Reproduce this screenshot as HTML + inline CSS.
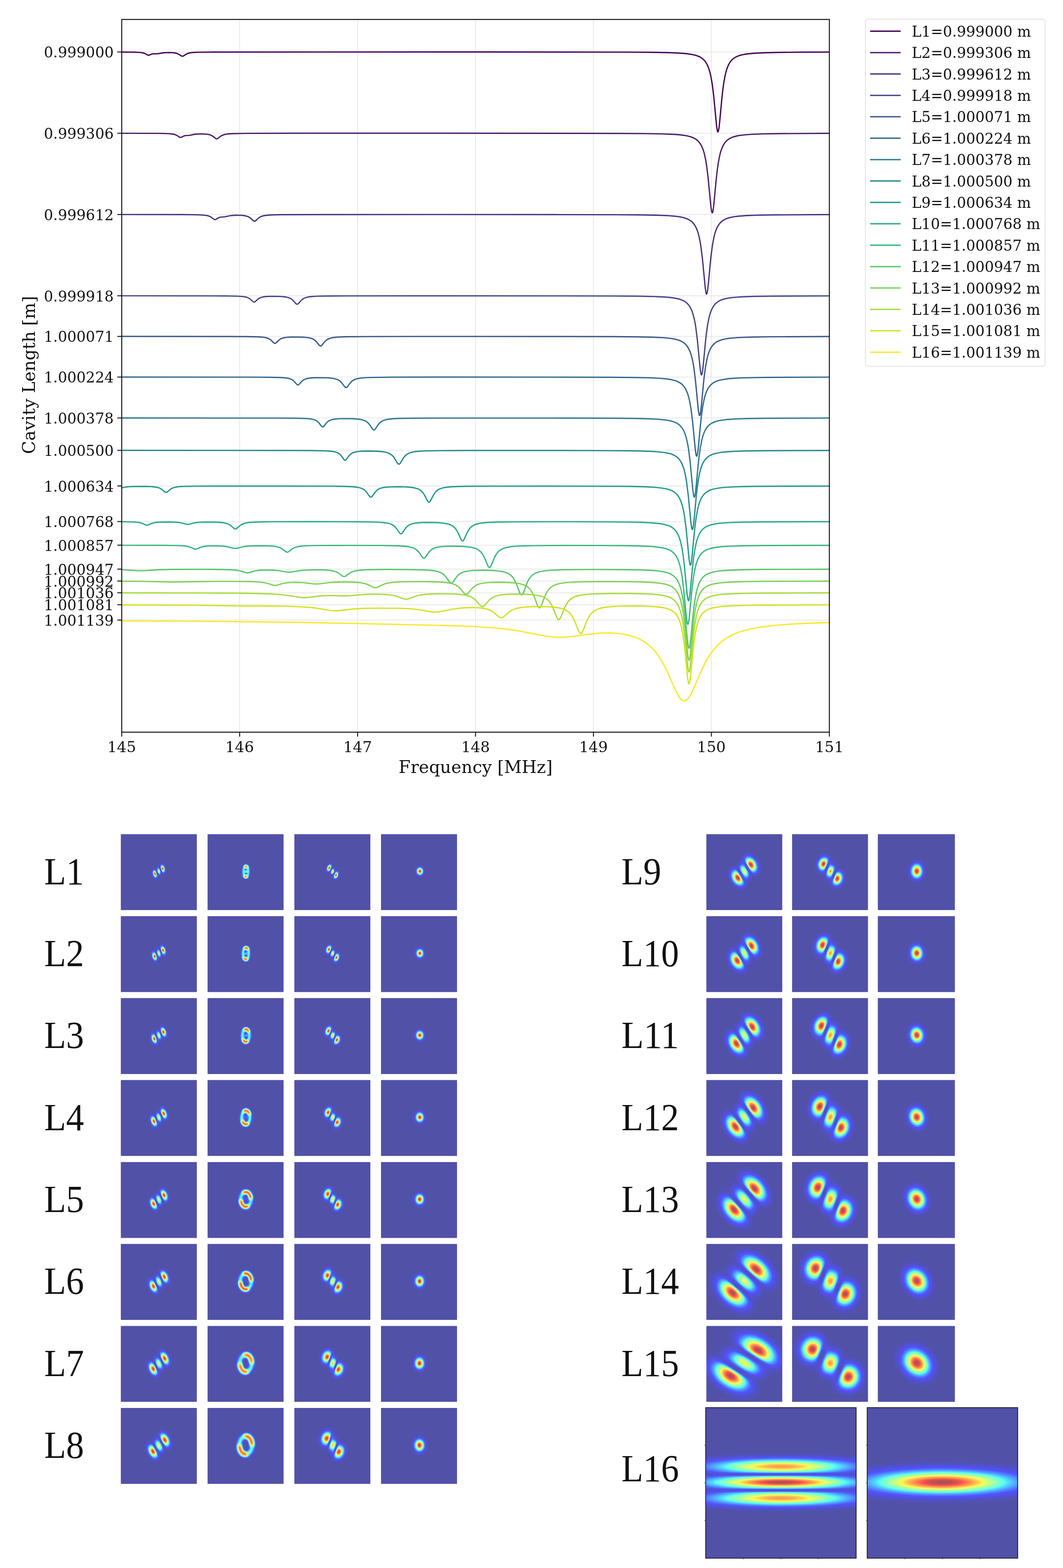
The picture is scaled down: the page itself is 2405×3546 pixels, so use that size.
<!DOCTYPE html><html><head><meta charset="utf-8"><title>Cavity length scan</title><style>html,body{margin:0;padding:0;background:#fff;overflow:hidden}svg{display:block}.t{font-family:"DejaVu Serif","Liberation Serif",serif;fill:#111}.lab{font-family:"Liberation Serif","DejaVu Serif",serif;fill:#111}</style></head><body>
<svg width="2405" height="3546" viewBox="0 0 2405 3546">
<defs>
<filter id="jet" x="0" y="0" width="1" height="1" filterUnits="objectBoundingBox" color-interpolation-filters="sRGB"><feComponentTransfer><feFuncR type="table" tableValues="0.320 0.320 0.320 0.320 0.320 0.320 0.320 0.320 0.320 0.320 0.320 0.320 0.320 0.320 0.320 0.320 0.320 0.320 0.320 0.320 0.320 0.320 0.320 0.344 0.378 0.412 0.447 0.481 0.516 0.550 0.585 0.619 0.653 0.688 0.722 0.757 0.791 0.825 0.860 0.894 0.929 0.963 0.997 1.000 1.000 1.000 1.000 1.000 1.000 1.000 1.000 1.000 1.000 1.000 1.000 1.000 1.000 0.987 0.939 0.890 0.842 0.793 0.745 0.696 0.660"/><feFuncG type="table" tableValues="0.320 0.320 0.320 0.320 0.320 0.320 0.320 0.320 0.321 0.364 0.407 0.449 0.492 0.535 0.577 0.620 0.663 0.705 0.748 0.791 0.833 0.876 0.919 0.961 1.000 1.000 1.000 1.000 1.000 1.000 1.000 1.000 1.000 1.000 1.000 1.000 1.000 1.000 1.000 1.000 1.000 0.992 0.953 0.913 0.874 0.834 0.795 0.755 0.716 0.676 0.637 0.597 0.558 0.518 0.479 0.439 0.400 0.360 0.320 0.320 0.320 0.320 0.320 0.320 0.320"/><feFuncB type="table" tableValues="0.660 0.708 0.757 0.805 0.854 0.902 0.951 0.999 1.000 1.000 1.000 1.000 1.000 1.000 1.000 1.000 1.000 1.000 1.000 1.000 1.000 1.000 0.989 0.954 0.920 0.886 0.851 0.817 0.782 0.748 0.714 0.679 0.645 0.610 0.576 0.542 0.507 0.473 0.438 0.404 0.369 0.335 0.320 0.320 0.320 0.320 0.320 0.320 0.320 0.320 0.320 0.320 0.320 0.320 0.320 0.320 0.320 0.320 0.320 0.320 0.320 0.320 0.320 0.320 0.320"/></feComponentTransfer></filter>
<radialGradient id="gs"><stop offset="0.000" stop-color="#fff" stop-opacity="1.0000"/><stop offset="0.083" stop-color="#fff" stop-opacity="0.9692"/><stop offset="0.167" stop-color="#fff" stop-opacity="0.8825"/><stop offset="0.250" stop-color="#fff" stop-opacity="0.7548"/><stop offset="0.333" stop-color="#fff" stop-opacity="0.6065"/><stop offset="0.417" stop-color="#fff" stop-opacity="0.4578"/><stop offset="0.500" stop-color="#fff" stop-opacity="0.3247"/><stop offset="0.583" stop-color="#fff" stop-opacity="0.2163"/><stop offset="0.667" stop-color="#fff" stop-opacity="0.1353"/><stop offset="0.750" stop-color="#fff" stop-opacity="0.0796"/><stop offset="0.833" stop-color="#fff" stop-opacity="0.0439"/><stop offset="0.917" stop-color="#fff" stop-opacity="0.0228"/><stop offset="1.000" stop-color="#fff" stop-opacity="0.0111"/></radialGradient>
</defs>
<line x1="542.2" y1="44.0" x2="542.2" y2="1655.8" stroke="#e9e9e9" stroke-width="2"/>
<line x1="809.1" y1="44.0" x2="809.1" y2="1655.8" stroke="#e9e9e9" stroke-width="2"/>
<line x1="1075.9" y1="44.0" x2="1075.9" y2="1655.8" stroke="#e9e9e9" stroke-width="2"/>
<line x1="1342.7" y1="44.0" x2="1342.7" y2="1655.8" stroke="#e9e9e9" stroke-width="2"/>
<line x1="1609.5" y1="44.0" x2="1609.5" y2="1655.8" stroke="#e9e9e9" stroke-width="2"/>
<line x1="275.4" y1="117.5" x2="1876.4" y2="117.5" stroke="#e9e9e9" stroke-width="2"/>
<line x1="275.4" y1="301.3" x2="1876.4" y2="301.3" stroke="#e9e9e9" stroke-width="2"/>
<line x1="275.4" y1="485.1" x2="1876.4" y2="485.1" stroke="#e9e9e9" stroke-width="2"/>
<line x1="275.4" y1="668.9" x2="1876.4" y2="668.9" stroke="#e9e9e9" stroke-width="2"/>
<line x1="275.4" y1="760.8" x2="1876.4" y2="760.8" stroke="#e9e9e9" stroke-width="2"/>
<line x1="275.4" y1="852.7" x2="1876.4" y2="852.7" stroke="#e9e9e9" stroke-width="2"/>
<line x1="275.4" y1="945.2" x2="1876.4" y2="945.2" stroke="#e9e9e9" stroke-width="2"/>
<line x1="275.4" y1="1018.5" x2="1876.4" y2="1018.5" stroke="#e9e9e9" stroke-width="2"/>
<line x1="275.4" y1="1099.0" x2="1876.4" y2="1099.0" stroke="#e9e9e9" stroke-width="2"/>
<line x1="275.4" y1="1179.5" x2="1876.4" y2="1179.5" stroke="#e9e9e9" stroke-width="2"/>
<line x1="275.4" y1="1232.9" x2="1876.4" y2="1232.9" stroke="#e9e9e9" stroke-width="2"/>
<line x1="275.4" y1="1287.0" x2="1876.4" y2="1287.0" stroke="#e9e9e9" stroke-width="2"/>
<line x1="275.4" y1="1314.0" x2="1876.4" y2="1314.0" stroke="#e9e9e9" stroke-width="2"/>
<line x1="275.4" y1="1340.5" x2="1876.4" y2="1340.5" stroke="#e9e9e9" stroke-width="2"/>
<line x1="275.4" y1="1367.5" x2="1876.4" y2="1367.5" stroke="#e9e9e9" stroke-width="2"/>
<line x1="275.4" y1="1402.3" x2="1876.4" y2="1402.3" stroke="#e9e9e9" stroke-width="2"/>
<g fill="none" stroke-width="2.9" stroke-linejoin="round" clip-path="url(#axclip)">
<path d="M275.4 117.7 L 304.5 118.0 312.8 118.4 318.9 118.9 322.9 119.5 326.4 120.5 329.0 121.7 333.8 124.4 336.0 125.0 337.8 124.6 342.9 122.4 346.1 121.8 356.5 121.6 367.2 119.8 374.1 119.1 382.1 118.9 389.9 119.1 396.0 119.8 400.8 121.0 404.5 122.7 410.4 126.5 411.8 127.0 412.8 127.2 413.9 127.0 415.2 126.5 420.6 122.9 424.0 121.2 427.8 120.0 432.6 119.1 439.2 118.5 448.8 118.1 483.5 117.7 1089.2 117.5 1409.2 117.9 1470.8 118.3 1511.1 119.0 1538.8 120.2 1549.5 121.0 1558.3 122.0 1567.9 123.6 1575.7 125.6 1582.1 128.1 1587.7 131.3 1592.2 135.1 1596.2 139.9 1599.7 145.6 1602.9 152.9 1605.3 160.2 1607.4 168.5 1609.5 179.0 1611.4 190.5 1614.9 218.8 1621.3 285.4 1622.9 295.6 1623.7 298.0 1624.2 298.5 1624.8 298.0 1625.6 295.6 1626.9 287.5 1628.5 272.9 1632.8 226.7 1634.9 206.8 1637.6 187.0 1640.5 170.9 1642.4 163.1 1644.2 156.8 1646.4 150.9 1648.5 146.1 1650.9 141.9 1653.8 137.8 1657.0 134.4 1660.5 131.5 1664.3 129.2 1668.3 127.3 1673.1 125.5 1678.4 124.1 1684.5 122.8 1691.5 121.8 1709.1 120.2 1732.0 119.2 1764.0 118.5 1809.4 118.0 1876.4 117.8" stroke="#440154"/>
<path d="M275.4 301.4 L 354.1 301.6 372.0 301.9 383.5 302.4 390.9 303.2 396.3 304.5 400.3 306.4 406.1 310.3 408.3 310.9 410.4 310.4 416.0 307.5 419.5 306.6 428.6 306.1 438.7 304.0 445.1 303.2 453.6 302.9 462.7 303.1 470.7 303.9 473.9 304.6 476.9 305.6 481.4 308.0 488.1 313.2 489.4 313.8 490.5 314.0 491.8 313.7 493.1 313.0 498.7 308.4 502.2 306.3 505.9 304.8 510.5 303.6 517.1 302.8 526.0 302.2 557.2 301.6 660.7 301.3 1018.0 301.3 1400.9 301.7 1460.4 302.1 1499.6 302.9 1526.6 304.0 1537.0 304.8 1545.8 305.8 1555.1 307.4 1562.9 309.4 1569.3 311.9 1574.9 315.1 1579.4 318.9 1583.4 323.6 1586.9 329.3 1590.1 336.5 1592.5 343.8 1594.6 352.1 1596.7 362.5 1598.6 373.9 1602.1 402.1 1608.5 468.3 1610.1 478.4 1610.9 480.8 1611.4 481.3 1612.0 480.8 1612.8 478.4 1614.1 470.4 1615.7 455.9 1620.0 409.9 1622.1 390.1 1625.0 368.8 1628.0 353.2 1629.8 345.7 1631.7 339.5 1633.8 333.9 1636.2 328.8 1638.6 324.7 1641.6 320.9 1644.8 317.6 1648.2 314.9 1652.2 312.5 1656.5 310.6 1661.3 309.0 1666.9 307.5 1673.3 306.3 1680.5 305.4 1698.7 303.9 1723.0 302.9 1756.6 302.2 1876.4 301.5" stroke="#481a6c"/>
<path d="M275.4 485.1 L 412.0 485.3 439.2 485.6 455.2 486.1 465.6 487.1 469.4 487.7 472.6 488.6 475.0 489.6 477.4 490.9 484.1 495.9 485.4 496.5 486.5 496.6 487.5 496.5 488.9 495.9 495.0 492.2 498.7 491.1 508.3 490.4 518.7 488.1 525.4 487.2 534.5 486.8 544.4 486.9 549.7 487.3 554.2 488.0 558.0 488.8 561.2 489.9 563.8 491.2 566.2 492.9 573.4 499.4 574.8 500.1 575.9 500.3 577.2 500.0 578.5 499.2 584.4 493.6 587.6 491.3 591.3 489.4 595.9 488.0 602.3 487.0 610.5 486.3 622.3 485.8 639.4 485.5 719.1 485.2 960.1 485.1 1253.6 485.3 1394.0 485.6 1450.8 486.0 1488.4 486.7 1514.6 487.9 1524.7 488.7 1533.2 489.6 1542.6 491.2 1550.3 493.3 1556.7 495.8 1562.1 498.9 1566.6 502.7 1570.6 507.4 1574.1 513.1 1577.3 520.4 1579.7 527.6 1581.8 535.9 1583.9 546.3 1585.8 557.8 1589.3 585.9 1595.7 652.1 1597.3 662.2 1598.1 664.6 1598.6 665.1 1599.1 664.6 1599.9 662.2 1601.3 654.2 1602.9 639.7 1607.1 593.8 1609.3 573.9 1612.2 552.6 1615.2 537.0 1617.0 529.5 1619.2 522.6 1621.3 517.0 1623.7 512.1 1626.4 507.8 1629.3 504.1 1632.5 501.0 1636.2 498.2 1640.2 495.9 1644.5 494.1 1649.6 492.5 1655.4 491.1 1662.1 489.9 1669.6 489.0 1688.5 487.5 1713.6 486.6 1749.1 486.0 1876.4 485.3" stroke="#472f7d"/>
<path d="M275.4 668.9 L 483.8 669.1 519.5 669.4 539.3 669.9 551.8 670.9 556.1 671.7 559.8 672.8 562.2 673.9 564.6 675.3 567.0 677.2 572.1 682.0 573.4 682.8 574.8 683.1 576.1 682.8 577.5 682.0 582.8 677.0 586.0 674.7 589.5 673.1 593.7 671.8 600.4 670.8 609.2 670.3 621.5 670.1 633.8 670.4 641.2 671.0 647.1 671.7 651.9 672.8 655.9 674.3 658.6 675.7 661.0 677.5 663.6 680.1 669.2 686.5 670.8 687.7 672.2 688.0 673.5 687.7 675.1 686.5 681.0 679.7 684.2 676.8 687.9 674.5 692.2 672.8 698.1 671.5 706.1 670.5 717.0 669.9 732.2 669.5 789.0 669.1 933.7 669.0 1241.6 669.1 1388.6 669.4 1442.5 669.8 1478.5 670.6 1503.9 671.7 1513.8 672.5 1522.0 673.5 1531.1 675.0 1538.8 677.0 1545.2 679.6 1550.6 682.6 1555.1 686.4 1559.1 691.1 1562.6 696.8 1565.8 704.0 1568.2 711.2 1570.3 719.4 1572.5 729.8 1574.3 741.2 1577.8 769.2 1584.2 835.0 1585.8 845.1 1586.6 847.4 1587.1 847.9 1587.7 847.4 1588.5 845.1 1589.8 837.1 1591.4 822.7 1595.7 777.0 1597.8 757.3 1600.7 736.0 1603.9 719.4 1605.8 712.1 1607.9 705.4 1610.1 700.1 1612.5 695.3 1615.2 691.1 1618.1 687.5 1621.6 684.2 1625.3 681.6 1629.3 679.4 1633.8 677.6 1639.2 676.0 1645.0 674.6 1652.0 673.5 1659.7 672.6 1679.2 671.2 1705.3 670.3 1742.4 669.7 1876.4 669.1" stroke="#414487"/>
<path d="M275.4 760.8 L 521.2 761.0 561.7 761.3 583.9 761.8 591.6 762.3 597.5 762.9 602.3 763.8 606.3 765.0 609.2 766.4 611.6 767.9 614.3 770.2 619.3 775.4 620.7 776.2 622.0 776.5 623.3 776.2 624.7 775.4 630.3 769.8 633.5 767.3 637.2 765.4 641.8 764.0 648.7 762.9 658.0 762.3 671.1 762.1 684.2 762.5 692.5 763.1 698.9 763.9 703.9 765.2 708.2 766.8 711.1 768.5 713.8 770.7 716.5 773.5 722.3 780.9 723.9 782.1 725.3 782.5 726.6 782.1 728.2 780.9 734.3 773.1 737.8 769.7 741.3 767.3 745.6 765.4 751.7 763.8 759.4 762.7 769.8 762.0 784.5 761.5 833.9 761.1 949.1 760.9 1241.3 761.0 1387.0 761.3 1439.3 761.8 1474.8 762.5 1499.9 763.6 1509.5 764.4 1517.8 765.4 1526.8 766.9 1534.6 768.9 1541.0 771.5 1546.3 774.5 1550.8 778.3 1554.8 783.0 1558.3 788.7 1561.5 795.9 1563.9 803.1 1566.1 811.3 1568.2 821.7 1570.1 833.1 1573.5 861.1 1579.9 926.9 1581.5 937.0 1582.3 939.3 1582.9 939.8 1583.4 939.3 1584.2 937.0 1585.5 929.0 1587.1 914.6 1591.4 868.9 1593.5 849.2 1596.5 827.9 1599.7 811.3 1601.5 804.0 1603.7 797.3 1605.8 792.0 1608.2 787.2 1610.9 783.0 1614.1 779.1 1617.6 775.9 1621.3 773.3 1625.3 771.2 1630.1 769.3 1635.4 767.7 1641.3 766.4 1648.2 765.3 1656.0 764.4 1676.0 763.1 1702.7 762.2 1740.0 761.6 1876.4 761.0" stroke="#39568c"/>
<path d="M275.4 852.7 L 564.4 852.9 609.7 853.2 634.0 853.8 642.6 854.3 649.0 855.0 654.0 856.0 658.0 857.3 661.0 858.8 663.4 860.5 666.0 863.0 671.4 869.1 672.7 870.1 674.0 870.5 675.4 870.1 676.7 869.1 682.3 862.8 685.8 859.8 689.5 857.7 694.1 856.2 701.3 855.0 710.9 854.3 725.0 854.1 739.2 854.4 748.0 855.0 754.9 855.9 760.5 857.3 765.0 859.1 768.2 861.0 770.9 863.3 773.8 866.5 779.7 874.4 781.3 875.9 782.9 876.4 784.5 875.8 786.1 874.4 792.0 866.5 795.5 862.7 798.9 860.1 803.2 857.9 809.1 856.2 816.8 854.9 826.9 854.1 840.8 853.6 885.1 853.0 982.5 852.8 1244.5 852.9 1384.1 853.3 1434.8 853.7 1469.2 854.4 1493.5 855.6 1511.1 857.3 1520.2 858.8 1527.9 860.9 1534.3 863.4 1539.6 866.5 1544.2 870.2 1548.2 874.9 1551.6 880.6 1554.8 887.8 1557.3 895.0 1559.4 903.2 1561.5 913.6 1563.4 925.0 1566.9 953.0 1573.3 1018.8 1574.9 1028.9 1575.7 1031.3 1576.2 1031.7 1576.7 1031.3 1577.5 1028.9 1578.9 1020.9 1580.5 1006.5 1584.7 960.8 1586.9 941.1 1589.8 919.8 1593.0 903.2 1594.9 895.9 1597.0 889.2 1599.4 883.3 1601.8 878.6 1604.5 874.5 1607.7 870.7 1611.2 867.6 1614.9 865.1 1618.9 863.0 1623.7 861.1 1629.0 859.6 1635.2 858.3 1642.1 857.2 1650.1 856.3 1670.4 854.9 1697.6 854.1 1736.0 853.5 1876.4 852.9" stroke="#31688e"/>
<path d="M275.4 945.2 L 611.3 945.4 662.0 945.7 688.2 946.3 697.3 946.9 704.2 947.7 709.5 948.8 713.8 950.4 716.7 952.0 719.4 954.1 722.1 957.0 727.4 964.0 728.7 965.1 730.1 965.5 731.4 965.1 732.7 964.0 738.4 956.7 741.8 953.3 745.8 950.8 750.6 949.0 758.1 947.7 768.5 946.9 783.7 946.6 799.5 947.0 809.1 947.7 816.5 948.8 822.4 950.3 827.2 952.3 830.7 954.6 833.6 957.4 836.8 961.4 842.7 970.3 844.3 971.8 845.9 972.4 847.5 971.8 849.1 970.2 855.2 961.0 858.7 956.7 862.2 953.8 866.2 951.4 872.0 949.4 879.2 948.0 888.8 947.0 902.2 946.3 941.4 945.7 1022.3 945.4 1248.8 945.4 1382.5 945.8 1431.3 946.2 1464.9 947.0 1488.7 948.1 1506.0 949.8 1515.1 951.4 1522.8 953.4 1529.2 956.0 1534.6 959.1 1539.1 963.0 1543.1 967.8 1546.6 973.6 1549.8 981.0 1552.2 988.5 1554.3 996.9 1556.2 1006.1 1558.1 1017.5 1561.5 1045.5 1567.9 1111.3 1569.5 1121.4 1570.3 1123.8 1570.9 1124.2 1571.4 1123.8 1572.2 1121.4 1573.5 1113.4 1575.1 1099.0 1579.4 1053.3 1581.5 1033.6 1584.5 1012.3 1587.7 995.7 1589.5 988.5 1591.7 981.8 1594.1 975.8 1596.5 971.1 1599.1 967.0 1602.3 963.3 1605.8 960.1 1609.8 957.4 1614.1 955.3 1618.9 953.4 1624.2 951.9 1630.4 950.7 1637.3 949.6 1645.6 948.7 1666.1 947.4 1693.6 946.5 1732.8 946.0 1876.4 945.4" stroke="#2a788e"/>
<path d="M275.4 1018.5 L 652.7 1018.7 708.2 1019.0 736.7 1019.6 746.6 1020.3 753.8 1021.1 759.4 1022.3 764.0 1024.0 767.2 1025.9 769.8 1028.2 772.8 1031.6 778.1 1039.2 779.4 1040.4 780.8 1040.8 782.1 1040.4 783.4 1039.2 789.3 1031.0 792.8 1027.3 796.8 1024.6 801.9 1022.6 809.6 1021.1 820.5 1020.3 836.5 1020.0 853.1 1020.5 863.5 1021.2 871.5 1022.4 877.9 1024.2 883.0 1026.6 886.4 1029.1 889.6 1032.3 892.8 1036.7 899.2 1047.4 900.8 1049.1 902.5 1049.7 904.1 1049.1 905.7 1047.4 912.1 1036.7 915.5 1032.0 919.0 1028.6 923.0 1025.9 928.6 1023.5 935.8 1021.8 945.1 1020.7 957.7 1019.9 992.6 1019.1 1061.2 1018.8 1250.9 1018.7 1379.5 1019.1 1427.6 1019.5 1460.7 1020.3 1484.1 1021.4 1501.5 1023.1 1510.6 1024.7 1518.3 1026.7 1524.7 1029.3 1530.0 1032.4 1534.6 1036.3 1538.6 1041.1 1542.0 1046.9 1545.2 1054.3 1547.6 1061.7 1549.8 1070.2 1551.6 1079.4 1553.5 1090.8 1557.0 1118.8 1563.4 1184.6 1565.0 1194.7 1565.8 1197.1 1566.3 1197.5 1566.9 1197.1 1567.7 1194.7 1569.0 1186.7 1570.6 1172.3 1574.9 1126.6 1577.0 1106.9 1579.9 1085.6 1583.1 1069.0 1585.0 1061.7 1587.1 1055.0 1589.5 1049.1 1591.9 1044.4 1594.9 1040.0 1598.1 1036.3 1601.5 1033.2 1605.5 1030.6 1609.8 1028.4 1614.6 1026.6 1620.0 1025.2 1626.1 1023.9 1633.3 1022.8 1641.6 1022.0 1662.4 1020.6 1690.4 1019.8 1730.2 1019.2 1876.4 1018.7" stroke="#23888e"/>
<path d="M275.4 1103.3 L 280.2 1102.1 285.8 1101.2 293.0 1100.6 301.8 1100.2 329.0 1100.0 340.0 1100.4 348.2 1101.0 356.0 1102.2 359.2 1103.1 361.9 1104.2 366.4 1106.9 373.1 1112.7 374.4 1113.4 375.7 1113.7 377.1 1113.4 378.7 1112.5 384.3 1107.5 386.9 1105.6 389.6 1104.1 392.8 1102.9 397.3 1101.7 402.7 1100.9 409.6 1100.3 419.0 1099.9 439.8 1099.4 475.0 1099.2 642.0 1099.2 742.1 1099.4 768.2 1099.7 786.1 1100.2 798.1 1100.8 807.2 1101.8 814.1 1103.1 819.5 1105.0 823.2 1107.1 826.7 1110.0 829.9 1113.8 835.7 1122.2 837.3 1123.8 838.9 1124.3 840.3 1123.9 841.9 1122.6 848.6 1113.2 852.3 1109.1 854.4 1107.4 856.8 1106.0 859.5 1104.7 862.4 1103.7 866.4 1102.8 871.0 1102.0 882.7 1101.1 899.8 1100.7 917.7 1101.1 929.1 1102.0 937.9 1103.3 944.9 1105.3 947.8 1106.6 950.2 1108.0 953.9 1110.9 957.4 1114.9 960.9 1120.5 967.3 1133.0 968.9 1135.0 969.7 1135.5 970.5 1135.7 971.3 1135.5 972.1 1135.0 973.7 1133.0 980.1 1120.5 983.6 1114.9 986.8 1111.1 990.5 1108.1 992.9 1106.6 995.8 1105.3 1002.5 1103.2 1011.1 1101.8 1022.5 1100.8 1035.3 1100.2 1052.4 1099.8 1108.2 1099.4 1251.7 1099.3 1374.5 1099.6 1422.8 1100.0 1455.9 1100.8 1479.3 1101.9 1496.7 1103.6 1506.0 1105.1 1513.8 1107.2 1520.2 1109.7 1525.5 1112.8 1530.0 1116.5 1534.0 1121.2 1537.5 1126.9 1540.7 1134.1 1543.1 1141.3 1545.2 1149.5 1547.4 1159.9 1549.2 1171.3 1552.7 1199.3 1559.1 1265.1 1560.7 1275.2 1561.5 1277.6 1562.1 1278.0 1562.6 1277.6 1563.4 1275.2 1564.7 1267.2 1566.3 1252.8 1570.6 1207.1 1572.7 1187.4 1575.7 1166.1 1578.9 1149.5 1580.7 1142.2 1582.9 1135.5 1585.3 1129.6 1587.7 1124.9 1590.6 1120.5 1593.8 1116.8 1597.3 1113.7 1601.3 1111.1 1605.5 1108.9 1610.4 1107.1 1616.0 1105.6 1622.1 1104.4 1629.3 1103.3 1637.6 1102.4 1658.6 1101.1 1686.9 1100.3 1727.2 1099.7 1876.4 1099.2" stroke="#1f988b"/>
<path d="M275.4 1179.9 L 298.9 1180.4 306.4 1180.8 312.2 1181.4 316.5 1182.1 320.0 1183.0 323.4 1184.3 329.3 1187.0 330.9 1187.5 332.5 1187.7 335.4 1187.1 342.6 1183.9 347.7 1182.4 354.4 1181.3 363.5 1180.7 383.5 1180.5 400.5 1181.2 409.6 1182.4 421.4 1185.4 425.1 1185.8 428.8 1185.4 436.8 1183.2 441.1 1182.3 451.8 1181.1 461.4 1180.7 473.1 1180.6 485.4 1180.8 495.5 1181.2 501.9 1181.7 507.3 1182.5 511.8 1183.5 515.5 1184.8 518.5 1186.2 521.4 1188.0 529.7 1195.1 531.3 1195.9 532.6 1196.2 534.2 1195.8 535.8 1194.9 542.2 1189.3 545.2 1187.1 548.1 1185.4 551.0 1184.2 555.3 1182.9 560.6 1182.0 567.0 1181.3 575.3 1180.7 591.9 1180.2 616.7 1179.9 717.3 1179.8 810.4 1180.0 835.7 1180.4 853.4 1180.9 865.4 1181.6 874.2 1182.7 881.1 1184.2 886.7 1186.4 890.4 1188.6 893.9 1191.6 897.4 1195.8 903.8 1205.3 905.4 1206.8 907.0 1207.4 908.6 1206.8 910.2 1205.4 917.1 1195.2 919.3 1192.6 921.4 1190.5 923.8 1188.6 926.2 1187.1 928.9 1185.8 932.1 1184.7 936.3 1183.6 941.1 1182.8 953.9 1181.8 972.6 1181.5 991.3 1182.0 1003.3 1183.1 1012.4 1184.7 1016.1 1185.7 1019.6 1187.1 1022.5 1188.5 1025.2 1190.3 1029.2 1193.9 1032.7 1198.4 1036.4 1205.2 1043.1 1219.9 1044.9 1222.5 1045.7 1223.1 1046.5 1223.3 1047.3 1223.1 1048.1 1222.5 1050.0 1219.9 1056.7 1205.1 1060.1 1198.8 1063.3 1194.4 1067.1 1190.8 1069.8 1188.9 1072.4 1187.4 1075.4 1186.1 1078.8 1185.0 1086.8 1183.2 1097.2 1182.0 1108.4 1181.3 1122.9 1180.7 1166.6 1180.1 1261.9 1179.9 1369.9 1180.1 1418.8 1180.6 1452.1 1181.3 1475.9 1182.5 1493.2 1184.2 1502.3 1185.8 1510.0 1187.8 1516.4 1190.4 1521.8 1193.6 1526.3 1197.6 1530.3 1202.5 1533.8 1208.4 1536.7 1215.3 1539.1 1222.8 1541.2 1231.2 1543.1 1240.4 1545.0 1251.8 1548.4 1279.8 1554.8 1345.6 1556.5 1355.7 1557.3 1358.1 1557.8 1358.5 1558.6 1357.5 1559.4 1354.5 1561.0 1343.4 1566.6 1284.9 1569.5 1259.4 1572.2 1241.9 1574.9 1228.9 1576.7 1221.8 1578.9 1215.3 1581.3 1209.5 1583.7 1205.0 1586.6 1200.6 1589.8 1197.0 1593.3 1194.0 1597.3 1191.4 1601.5 1189.3 1606.3 1187.6 1612.0 1186.0 1618.1 1184.8 1625.3 1183.8 1633.8 1182.9 1655.2 1181.6 1684.0 1180.8 1724.8 1180.2 1876.4 1179.7" stroke="#22a884"/>
<path d="M275.4 1233.1 L 371.7 1233.3 394.1 1233.6 408.5 1234.1 418.2 1234.8 425.4 1236.0 431.0 1237.7 439.2 1241.2 442.4 1241.8 445.6 1241.2 453.6 1237.9 459.0 1236.3 465.6 1235.2 473.9 1234.6 491.0 1234.5 506.2 1235.3 514.7 1236.5 528.1 1239.8 532.6 1240.3 537.2 1239.8 546.2 1237.4 551.3 1236.3 562.2 1235.0 571.6 1234.5 583.1 1234.2 607.3 1234.5 615.1 1235.0 621.2 1235.6 626.5 1236.6 630.8 1237.7 634.3 1239.1 637.5 1240.8 646.6 1247.7 648.2 1248.4 649.8 1248.7 651.4 1248.4 653.0 1247.7 661.8 1240.9 665.0 1239.1 668.2 1237.8 672.4 1236.6 677.2 1235.7 683.1 1235.0 690.3 1234.4 703.4 1233.9 721.8 1233.6 786.9 1233.4 862.7 1233.6 885.4 1234.0 901.9 1234.5 914.5 1235.2 924.1 1236.3 931.5 1238.0 937.4 1240.2 941.4 1242.5 945.1 1245.8 948.9 1250.3 955.5 1260.2 957.4 1261.9 959.0 1262.4 960.6 1261.9 962.5 1260.2 969.7 1249.7 971.8 1247.0 974.2 1244.6 976.6 1242.7 979.3 1241.1 982.2 1239.7 985.7 1238.5 990.2 1237.4 995.6 1236.5 1009.2 1235.4 1028.9 1235.2 1048.4 1235.8 1061.2 1237.0 1066.6 1237.8 1071.1 1238.8 1075.1 1240.0 1078.6 1241.5 1081.8 1243.2 1084.7 1245.2 1089.0 1249.4 1092.7 1254.7 1096.4 1261.9 1103.6 1279.3 1105.5 1282.2 1106.6 1283.1 1107.4 1283.3 1108.2 1283.1 1109.2 1282.2 1111.1 1279.3 1118.0 1262.5 1121.5 1255.5 1124.7 1250.6 1128.2 1246.7 1130.6 1244.7 1133.3 1242.9 1136.2 1241.3 1139.4 1240.0 1147.1 1237.8 1156.7 1236.3 1166.3 1235.4 1178.1 1234.7 1212.2 1233.9 1274.1 1233.5 1360.3 1233.6 1412.9 1234.0 1448.7 1234.7 1473.7 1235.9 1483.3 1236.7 1491.6 1237.7 1500.7 1239.3 1508.4 1241.3 1514.8 1243.9 1520.2 1247.1 1524.7 1251.1 1528.7 1256.0 1532.2 1261.9 1535.1 1268.8 1537.5 1276.2 1539.6 1284.7 1541.5 1293.9 1543.4 1305.3 1546.8 1333.3 1553.2 1399.1 1554.8 1409.2 1555.7 1411.5 1556.2 1412.0 1557.0 1411.0 1557.8 1408.0 1559.4 1396.9 1565.0 1338.4 1567.9 1312.9 1570.6 1295.4 1573.3 1282.4 1575.1 1275.3 1577.3 1268.8 1579.7 1263.0 1582.1 1258.5 1585.0 1254.1 1588.2 1250.5 1591.7 1247.5 1595.7 1244.9 1599.9 1242.8 1604.7 1241.0 1610.4 1239.5 1616.8 1238.3 1624.0 1237.2 1632.5 1236.3 1653.8 1235.1 1682.7 1234.2 1723.8 1233.7 1876.4 1233.2" stroke="#35b779"/>
<path d="M275.4 1288.4 L 309.6 1290.4 319.2 1290.6 328.5 1290.4 360.0 1288.5 389.1 1287.8 456.8 1287.5 509.9 1288.0 526.0 1288.7 536.9 1289.8 544.9 1291.5 555.8 1295.0 559.6 1295.5 563.6 1295.0 572.9 1292.0 578.5 1290.7 585.5 1289.7 593.7 1289.2 608.4 1289.1 622.5 1289.7 633.0 1290.9 648.2 1293.6 653.8 1294.0 659.9 1293.5 677.2 1290.5 688.5 1289.4 707.7 1288.7 729.3 1288.8 738.6 1289.3 746.1 1289.9 752.2 1290.9 757.3 1292.1 760.8 1293.4 764.0 1294.9 767.4 1297.1 774.6 1302.6 776.8 1303.6 778.6 1303.9 780.5 1303.6 782.4 1302.7 791.4 1296.0 794.4 1294.3 797.6 1292.9 801.3 1291.7 805.6 1290.7 816.5 1289.2 825.6 1288.6 837.3 1288.2 872.0 1287.8 923.3 1288.0 957.4 1288.7 971.6 1289.5 982.2 1290.7 990.5 1292.5 996.9 1294.8 1001.4 1297.4 1005.4 1300.7 1009.4 1305.3 1016.9 1316.0 1019.1 1318.0 1020.9 1318.6 1022.8 1318.0 1024.7 1316.3 1032.9 1304.8 1035.3 1302.0 1037.7 1299.7 1040.4 1297.6 1043.3 1295.8 1046.5 1294.4 1050.0 1293.2 1054.8 1292.0 1060.4 1291.1 1067.1 1290.4 1075.1 1289.9 1095.9 1289.5 1116.7 1290.2 1130.6 1291.6 1136.2 1292.5 1141.3 1293.7 1145.5 1295.1 1149.5 1296.9 1153.0 1298.9 1155.9 1301.2 1158.3 1303.5 1160.5 1306.0 1164.5 1312.2 1168.5 1320.8 1176.0 1340.6 1178.1 1344.3 1179.2 1345.2 1180.0 1345.4 1180.8 1345.2 1181.6 1344.6 1183.4 1341.7 1185.6 1336.7 1190.9 1322.1 1193.3 1316.4 1196.8 1309.8 1200.8 1304.3 1203.2 1301.8 1205.6 1299.7 1208.2 1297.9 1211.4 1296.2 1218.4 1293.6 1226.9 1291.7 1234.1 1290.7 1242.9 1289.9 1266.1 1288.7 1301.6 1288.1 1353.7 1287.9 1408.4 1288.2 1447.6 1288.8 1474.5 1290.0 1484.7 1290.8 1493.5 1291.8 1502.8 1293.4 1510.6 1295.5 1517.0 1298.1 1522.3 1301.2 1526.8 1305.0 1530.8 1309.8 1534.3 1315.6 1537.5 1322.9 1539.9 1330.3 1542.0 1338.6 1544.2 1349.0 1546.0 1360.5 1549.5 1388.5 1555.7 1451.3 1557.3 1462.2 1558.1 1465.1 1558.9 1466.1 1559.4 1465.7 1560.2 1463.4 1561.5 1455.6 1563.1 1441.4 1567.7 1393.6 1569.8 1374.4 1572.7 1353.7 1575.9 1337.4 1577.8 1330.2 1579.9 1323.6 1582.3 1317.8 1585.0 1312.7 1587.9 1308.3 1591.1 1304.7 1594.6 1301.7 1598.6 1299.1 1602.9 1297.0 1607.7 1295.3 1613.3 1293.7 1619.7 1292.4 1626.9 1291.4 1635.4 1290.5 1656.8 1289.2 1685.3 1288.3 1726.2 1287.8 1876.4 1287.3" stroke="#54c568"/>
<path d="M275.4 1314.5 L 326.4 1314.9 391.5 1316.2 453.6 1315.2 485.4 1314.9 532.9 1314.9 566.2 1315.3 583.9 1316.1 596.1 1317.4 605.2 1319.3 617.7 1323.3 622.3 1324.0 624.7 1323.8 627.1 1323.4 637.5 1320.2 643.6 1318.7 650.6 1317.7 658.6 1317.1 670.0 1317.0 681.8 1317.4 691.9 1318.3 708.7 1320.4 715.9 1320.8 722.6 1320.4 741.6 1317.9 754.6 1316.8 773.0 1316.2 792.8 1316.3 810.4 1317.2 817.1 1318.0 822.9 1319.1 827.7 1320.4 832.0 1321.9 844.8 1328.2 847.2 1328.9 849.4 1329.1 851.8 1328.9 854.2 1328.1 865.1 1322.6 871.8 1320.0 879.5 1318.2 889.4 1316.9 905.9 1315.9 929.7 1315.4 962.0 1315.4 988.4 1316.0 1002.5 1316.8 1013.5 1318.0 1022.0 1319.6 1028.9 1321.9 1033.5 1324.3 1037.7 1327.4 1042.0 1331.7 1050.3 1341.9 1052.4 1343.6 1054.5 1344.2 1056.7 1343.6 1058.8 1341.9 1067.6 1331.2 1070.0 1328.8 1072.7 1326.5 1075.6 1324.5 1078.8 1322.7 1082.3 1321.3 1086.0 1320.2 1091.1 1319.1 1097.2 1318.1 1104.4 1317.5 1112.7 1317.0 1134.1 1316.8 1154.6 1317.5 1169.3 1318.9 1175.2 1319.9 1180.2 1321.1 1184.8 1322.6 1188.8 1324.4 1192.2 1326.4 1195.4 1328.9 1197.8 1331.1 1200.2 1334.0 1202.4 1337.0 1204.5 1340.6 1208.5 1349.1 1214.6 1365.6 1216.5 1370.0 1218.6 1373.5 1219.7 1374.3 1220.5 1374.5 1221.3 1374.3 1222.4 1373.5 1224.2 1370.5 1226.4 1365.5 1231.7 1351.1 1234.4 1344.8 1237.9 1338.2 1241.9 1332.5 1244.3 1330.0 1246.7 1327.9 1249.3 1325.9 1252.0 1324.4 1258.4 1321.7 1266.4 1319.6 1272.8 1318.5 1280.0 1317.6 1299.0 1316.4 1326.2 1315.6 1364.3 1315.2 1412.4 1315.4 1449.7 1316.0 1475.3 1317.2 1485.2 1318.0 1493.7 1318.9 1502.8 1320.5 1510.6 1322.6 1517.0 1325.1 1522.3 1328.3 1526.8 1332.1 1530.8 1336.9 1534.3 1342.7 1537.5 1350.0 1539.9 1357.3 1542.0 1365.6 1544.2 1376.1 1546.0 1387.6 1549.5 1415.6 1555.7 1478.4 1557.3 1489.3 1558.1 1492.2 1558.9 1493.2 1559.4 1492.7 1560.2 1490.4 1561.5 1482.7 1563.1 1468.5 1567.7 1420.7 1569.8 1401.5 1572.7 1380.7 1575.9 1364.5 1577.8 1357.3 1579.9 1350.7 1582.3 1344.8 1585.0 1339.7 1587.9 1335.4 1591.1 1331.8 1594.6 1328.8 1598.6 1326.2 1602.9 1324.1 1607.7 1322.3 1613.3 1320.8 1619.7 1319.5 1626.9 1318.5 1635.4 1317.6 1656.8 1316.2 1685.6 1315.4 1726.4 1314.8 1876.4 1314.3" stroke="#7ad151"/>
<path d="M275.4 1340.7 L 492.1 1341.1 548.1 1341.5 586.8 1342.2 613.2 1343.2 633.8 1344.6 650.6 1346.5 676.4 1350.6 682.3 1351.2 687.9 1351.5 697.5 1351.0 721.3 1348.0 735.7 1347.0 749.6 1346.7 773.3 1347.5 782.9 1347.5 792.2 1347.0 815.2 1345.1 828.5 1344.3 844.5 1343.8 860.3 1343.9 876.6 1344.7 883.2 1345.4 889.1 1346.4 893.9 1347.4 898.7 1348.8 913.1 1354.2 916.1 1354.8 919.0 1355.1 921.9 1354.8 925.1 1354.0 937.4 1349.3 944.1 1347.2 951.3 1345.7 959.3 1344.5 971.8 1343.5 987.8 1343.0 1007.0 1342.9 1024.9 1343.2 1038.3 1344.0 1048.9 1345.2 1057.5 1347.0 1064.4 1349.3 1069.2 1351.8 1073.5 1354.9 1078.0 1359.4 1086.6 1369.4 1089.0 1371.2 1090.3 1371.7 1091.4 1371.9 1093.5 1371.4 1095.9 1369.6 1105.5 1358.6 1108.2 1355.9 1111.1 1353.5 1114.3 1351.5 1117.5 1349.8 1121.0 1348.4 1125.0 1347.2 1130.3 1346.0 1136.7 1345.0 1144.2 1344.3 1152.7 1343.8 1174.6 1343.5 1196.0 1344.2 1210.9 1345.6 1217.0 1346.6 1222.4 1347.8 1226.9 1349.3 1231.2 1351.1 1234.9 1353.2 1238.1 1355.6 1240.8 1358.0 1243.2 1360.8 1247.5 1367.1 1251.7 1375.8 1258.1 1392.2 1260.0 1396.4 1262.1 1399.9 1263.2 1400.8 1264.3 1401.1 1265.1 1400.9 1266.1 1400.1 1268.3 1396.9 1270.1 1392.8 1275.5 1379.0 1278.4 1372.2 1281.9 1365.7 1285.6 1360.3 1290.2 1355.7 1295.2 1352.1 1301.4 1349.2 1308.6 1347.0 1314.2 1345.9 1320.3 1344.9 1335.5 1343.6 1356.3 1342.7 1384.1 1342.2 1421.7 1342.2 1454.0 1342.8 1476.9 1343.9 1494.0 1345.5 1503.1 1347.1 1510.6 1349.1 1517.0 1351.7 1522.3 1354.8 1526.8 1358.7 1530.8 1363.4 1534.3 1369.2 1537.5 1376.5 1539.9 1383.9 1542.0 1392.2 1544.2 1402.7 1546.0 1414.1 1549.5 1442.1 1555.7 1504.9 1557.3 1515.8 1558.1 1518.7 1558.9 1519.7 1559.4 1519.3 1560.2 1517.0 1561.5 1509.2 1563.1 1495.0 1567.7 1447.2 1569.8 1428.0 1572.7 1407.2 1575.9 1391.0 1577.8 1383.8 1579.9 1377.2 1582.3 1371.3 1585.0 1366.2 1587.9 1361.9 1591.1 1358.3 1594.6 1355.3 1598.6 1352.7 1602.9 1350.6 1607.7 1348.8 1613.3 1347.3 1619.7 1346.0 1626.9 1344.9 1635.4 1344.0 1656.8 1342.7 1685.6 1341.9 1726.4 1341.3 1876.4 1340.7" stroke="#a5db36"/>
<path d="M275.4 1368.0 L 425.6 1368.6 540.4 1370.2 617.2 1370.5 654.6 1371.1 681.2 1372.2 702.6 1373.8 719.7 1375.9 746.4 1380.4 752.2 1381.1 757.8 1381.3 763.2 1381.2 768.8 1380.8 799.2 1377.2 818.7 1376.0 834.7 1375.6 855.8 1375.4 903.5 1375.6 922.5 1376.4 937.9 1377.6 951.3 1379.4 974.0 1383.4 979.3 1384.0 984.1 1384.2 989.7 1384.0 995.8 1383.2 1022.0 1377.9 1038.0 1375.6 1047.3 1374.8 1057.2 1374.2 1067.1 1374.0 1076.4 1374.1 1085.8 1374.7 1093.8 1375.7 1100.7 1377.1 1106.6 1379.1 1111.4 1381.4 1115.9 1384.2 1129.0 1395.3 1131.7 1396.7 1134.1 1397.1 1136.7 1396.5 1139.4 1395.0 1150.3 1385.3 1153.5 1382.8 1156.7 1380.8 1160.2 1379.0 1163.7 1377.5 1171.9 1375.1 1177.8 1374.0 1184.8 1373.1 1201.6 1372.0 1223.2 1371.7 1243.7 1372.3 1251.7 1373.0 1258.9 1373.8 1265.1 1374.9 1270.4 1376.1 1275.2 1377.7 1279.5 1379.6 1283.2 1381.8 1286.7 1384.4 1289.4 1386.9 1291.8 1389.7 1294.2 1393.0 1296.3 1396.5 1300.8 1405.9 1307.2 1422.6 1309.4 1427.7 1310.7 1430.1 1311.8 1431.6 1312.8 1432.5 1313.9 1432.8 1315.0 1432.5 1316.0 1431.6 1318.2 1428.2 1320.3 1423.3 1325.4 1409.8 1328.3 1402.8 1331.8 1395.9 1335.2 1390.5 1339.3 1385.9 1343.8 1382.1 1349.1 1378.9 1355.3 1376.5 1364.3 1374.2 1375.8 1372.5 1390.5 1371.3 1409.2 1370.6 1435.0 1370.3 1460.1 1370.7 1479.6 1371.7 1494.5 1373.2 1503.6 1374.8 1511.1 1376.8 1517.2 1379.3 1522.6 1382.5 1527.1 1386.4 1531.1 1391.2 1534.6 1397.2 1537.5 1404.0 1539.9 1411.3 1542.0 1419.6 1544.2 1430.1 1546.0 1441.5 1549.5 1469.5 1555.7 1532.3 1557.3 1543.1 1558.1 1546.1 1558.9 1547.1 1559.4 1546.6 1560.2 1544.3 1561.5 1536.5 1563.1 1522.4 1567.7 1474.6 1569.8 1455.3 1572.7 1434.6 1575.9 1418.3 1577.8 1411.2 1579.9 1404.6 1582.3 1398.7 1585.0 1393.6 1587.9 1389.2 1591.1 1385.6 1594.6 1382.6 1598.6 1380.0 1602.9 1377.9 1607.7 1376.1 1613.3 1374.6 1619.7 1373.3 1626.9 1372.2 1635.4 1371.3 1657.0 1370.0 1686.1 1369.1 1727.2 1368.5 1876.4 1367.9" stroke="#d2e21b"/>
<path d="M275.4 1404.1 L 492.9 1405.4 663.1 1407.3 740.5 1408.7 826.9 1410.5 988.6 1414.1 1048.4 1415.9 1076.4 1417.1 1100.7 1418.6 1122.6 1420.4 1142.6 1422.5 1160.2 1424.8 1177.6 1427.6 1193.0 1430.5 1223.2 1436.5 1235.7 1438.7 1249.3 1440.5 1262.1 1441.3 1273.9 1441.2 1286.7 1440.3 1298.7 1438.9 1335.0 1434.0 1347.0 1432.7 1358.5 1431.9 1371.0 1431.5 1383.3 1431.6 1395.0 1432.4 1406.2 1433.6 1417.4 1435.6 1428.1 1438.3 1438.0 1441.5 1447.1 1445.5 1455.6 1450.1 1463.3 1455.3 1470.8 1461.4 1477.7 1468.2 1483.9 1475.3 1489.7 1483.2 1495.3 1491.8 1501.0 1501.5 1505.8 1510.8 1510.8 1521.4 1528.4 1561.2 1531.9 1568.2 1534.8 1573.4 1538.3 1578.6 1541.5 1582.2 1544.7 1584.4 1546.3 1585.0 1547.9 1585.2 1549.5 1585.0 1551.4 1584.4 1553.0 1583.4 1554.8 1581.8 1558.6 1577.4 1562.3 1571.4 1565.5 1565.2 1569.0 1557.9 1583.9 1523.2 1591.7 1506.5 1595.9 1498.1 1600.2 1490.5 1604.5 1483.4 1608.7 1477.0 1613.3 1470.9 1618.1 1465.1 1622.9 1459.9 1628.0 1455.0 1633.3 1450.5 1638.9 1446.2 1644.8 1442.4 1650.9 1438.8 1658.4 1435.1 1666.1 1431.8 1674.7 1428.7 1683.7 1425.9 1693.6 1423.4 1704.0 1421.1 1715.2 1419.1 1727.5 1417.2 1755.2 1414.1 1788.3 1411.5 1828.1 1409.5 1876.4 1407.8" stroke="#fde725"/>
</g>
<clipPath id="axclip"><rect x="275.4" y="44.0" width="1601.0" height="1611.8"/></clipPath>
<rect x="275.4" y="44.0" width="1601.0" height="1611.8" fill="none" stroke="#1a1a1a" stroke-width="2.3"/>
<line x1="275.4" y1="1655.8" x2="275.4" y2="1665.8" stroke="#1a1a1a" stroke-width="2.2"/>
<text class="t" x="275.4" y="1700.6" font-size="34" text-anchor="middle">145</text>
<line x1="542.2" y1="1655.8" x2="542.2" y2="1665.8" stroke="#1a1a1a" stroke-width="2.2"/>
<text class="t" x="542.2" y="1700.6" font-size="34" text-anchor="middle">146</text>
<line x1="809.1" y1="1655.8" x2="809.1" y2="1665.8" stroke="#1a1a1a" stroke-width="2.2"/>
<text class="t" x="809.1" y="1700.6" font-size="34" text-anchor="middle">147</text>
<line x1="1075.9" y1="1655.8" x2="1075.9" y2="1665.8" stroke="#1a1a1a" stroke-width="2.2"/>
<text class="t" x="1075.9" y="1700.6" font-size="34" text-anchor="middle">148</text>
<line x1="1342.7" y1="1655.8" x2="1342.7" y2="1665.8" stroke="#1a1a1a" stroke-width="2.2"/>
<text class="t" x="1342.7" y="1700.6" font-size="34" text-anchor="middle">149</text>
<line x1="1609.5" y1="1655.8" x2="1609.5" y2="1665.8" stroke="#1a1a1a" stroke-width="2.2"/>
<text class="t" x="1609.5" y="1700.6" font-size="34" text-anchor="middle">150</text>
<line x1="1876.4" y1="1655.8" x2="1876.4" y2="1665.8" stroke="#1a1a1a" stroke-width="2.2"/>
<text class="t" x="1876.4" y="1700.6" font-size="34" text-anchor="middle">151</text>
<line x1="265.4" y1="117.5" x2="275.4" y2="117.5" stroke="#1a1a1a" stroke-width="2.2"/>
<text class="t" x="257.3" y="130.1" font-size="34" text-anchor="end" textLength="158" lengthAdjust="spacingAndGlyphs">0.999000</text>
<line x1="265.4" y1="301.3" x2="275.4" y2="301.3" stroke="#1a1a1a" stroke-width="2.2"/>
<text class="t" x="257.3" y="313.9" font-size="34" text-anchor="end" textLength="158" lengthAdjust="spacingAndGlyphs">0.999306</text>
<line x1="265.4" y1="485.1" x2="275.4" y2="485.1" stroke="#1a1a1a" stroke-width="2.2"/>
<text class="t" x="257.3" y="497.7" font-size="34" text-anchor="end" textLength="158" lengthAdjust="spacingAndGlyphs">0.999612</text>
<line x1="265.4" y1="668.9" x2="275.4" y2="668.9" stroke="#1a1a1a" stroke-width="2.2"/>
<text class="t" x="257.3" y="681.5" font-size="34" text-anchor="end" textLength="158" lengthAdjust="spacingAndGlyphs">0.999918</text>
<line x1="265.4" y1="760.8" x2="275.4" y2="760.8" stroke="#1a1a1a" stroke-width="2.2"/>
<text class="t" x="257.3" y="773.4" font-size="34" text-anchor="end" textLength="158" lengthAdjust="spacingAndGlyphs">1.000071</text>
<line x1="265.4" y1="852.7" x2="275.4" y2="852.7" stroke="#1a1a1a" stroke-width="2.2"/>
<text class="t" x="257.3" y="865.3" font-size="34" text-anchor="end" textLength="158" lengthAdjust="spacingAndGlyphs">1.000224</text>
<line x1="265.4" y1="945.2" x2="275.4" y2="945.2" stroke="#1a1a1a" stroke-width="2.2"/>
<text class="t" x="257.3" y="957.8" font-size="34" text-anchor="end" textLength="158" lengthAdjust="spacingAndGlyphs">1.000378</text>
<line x1="265.4" y1="1018.5" x2="275.4" y2="1018.5" stroke="#1a1a1a" stroke-width="2.2"/>
<text class="t" x="257.3" y="1031.1" font-size="34" text-anchor="end" textLength="158" lengthAdjust="spacingAndGlyphs">1.000500</text>
<line x1="265.4" y1="1099.0" x2="275.4" y2="1099.0" stroke="#1a1a1a" stroke-width="2.2"/>
<text class="t" x="257.3" y="1111.6" font-size="34" text-anchor="end" textLength="158" lengthAdjust="spacingAndGlyphs">1.000634</text>
<line x1="265.4" y1="1179.5" x2="275.4" y2="1179.5" stroke="#1a1a1a" stroke-width="2.2"/>
<text class="t" x="257.3" y="1192.1" font-size="34" text-anchor="end" textLength="158" lengthAdjust="spacingAndGlyphs">1.000768</text>
<line x1="265.4" y1="1232.9" x2="275.4" y2="1232.9" stroke="#1a1a1a" stroke-width="2.2"/>
<text class="t" x="257.3" y="1245.5" font-size="34" text-anchor="end" textLength="158" lengthAdjust="spacingAndGlyphs">1.000857</text>
<line x1="265.4" y1="1287.0" x2="275.4" y2="1287.0" stroke="#1a1a1a" stroke-width="2.2"/>
<text class="t" x="257.3" y="1299.6" font-size="34" text-anchor="end" textLength="158" lengthAdjust="spacingAndGlyphs">1.000947</text>
<line x1="265.4" y1="1314.0" x2="275.4" y2="1314.0" stroke="#1a1a1a" stroke-width="2.2"/>
<text class="t" x="257.3" y="1326.6" font-size="34" text-anchor="end" textLength="158" lengthAdjust="spacingAndGlyphs">1.000992</text>
<line x1="265.4" y1="1340.5" x2="275.4" y2="1340.5" stroke="#1a1a1a" stroke-width="2.2"/>
<text class="t" x="257.3" y="1353.1" font-size="34" text-anchor="end" textLength="158" lengthAdjust="spacingAndGlyphs">1.001036</text>
<line x1="265.4" y1="1367.5" x2="275.4" y2="1367.5" stroke="#1a1a1a" stroke-width="2.2"/>
<text class="t" x="257.3" y="1380.1" font-size="34" text-anchor="end" textLength="158" lengthAdjust="spacingAndGlyphs">1.001081</text>
<line x1="265.4" y1="1402.3" x2="275.4" y2="1402.3" stroke="#1a1a1a" stroke-width="2.2"/>
<text class="t" x="257.3" y="1414.9" font-size="34" text-anchor="end" textLength="158" lengthAdjust="spacingAndGlyphs">1.001139</text>
<text class="t" x="1076" y="1747.7" font-size="39" text-anchor="middle">Frequency [MHz]</text>
<text class="t" transform="translate(79.1 848) rotate(-90)" x="0" y="0" font-size="39" text-anchor="middle">Cavity Length [m]</text>
<rect x="1958" y="43.5" width="406.5" height="785" rx="6" fill="#fff" stroke="#e2e2e2" stroke-width="1.8"/>
<line x1="1968.6" y1="70.5" x2="2037.7" y2="70.5" stroke="#440154" stroke-width="3"/>
<text class="t" x="2062.8" y="82.8" font-size="33">L1=0.999000 m</text>
<line x1="1968.6" y1="118.9" x2="2037.7" y2="118.9" stroke="#481a6c" stroke-width="3"/>
<text class="t" x="2062.8" y="131.2" font-size="33">L2=0.999306 m</text>
<line x1="1968.6" y1="167.3" x2="2037.7" y2="167.3" stroke="#472f7d" stroke-width="3"/>
<text class="t" x="2062.8" y="179.6" font-size="33">L3=0.999612 m</text>
<line x1="1968.6" y1="215.7" x2="2037.7" y2="215.7" stroke="#414487" stroke-width="3"/>
<text class="t" x="2062.8" y="228.0" font-size="33">L4=0.999918 m</text>
<line x1="1968.6" y1="264.1" x2="2037.7" y2="264.1" stroke="#39568c" stroke-width="3"/>
<text class="t" x="2062.8" y="276.4" font-size="33">L5=1.000071 m</text>
<line x1="1968.6" y1="312.5" x2="2037.7" y2="312.5" stroke="#31688e" stroke-width="3"/>
<text class="t" x="2062.8" y="324.8" font-size="33">L6=1.000224 m</text>
<line x1="1968.6" y1="360.9" x2="2037.7" y2="360.9" stroke="#2a788e" stroke-width="3"/>
<text class="t" x="2062.8" y="373.2" font-size="33">L7=1.000378 m</text>
<line x1="1968.6" y1="409.3" x2="2037.7" y2="409.3" stroke="#23888e" stroke-width="3"/>
<text class="t" x="2062.8" y="421.6" font-size="33">L8=1.000500 m</text>
<line x1="1968.6" y1="457.7" x2="2037.7" y2="457.7" stroke="#1f988b" stroke-width="3"/>
<text class="t" x="2062.8" y="470.0" font-size="33">L9=1.000634 m</text>
<line x1="1968.6" y1="506.1" x2="2037.7" y2="506.1" stroke="#22a884" stroke-width="3"/>
<text class="t" x="2062.8" y="518.4" font-size="33">L10=1.000768 m</text>
<line x1="1968.6" y1="554.5" x2="2037.7" y2="554.5" stroke="#35b779" stroke-width="3"/>
<text class="t" x="2062.8" y="566.8" font-size="33">L11=1.000857 m</text>
<line x1="1968.6" y1="602.9" x2="2037.7" y2="602.9" stroke="#54c568" stroke-width="3"/>
<text class="t" x="2062.8" y="615.2" font-size="33">L12=1.000947 m</text>
<line x1="1968.6" y1="651.3" x2="2037.7" y2="651.3" stroke="#7ad151" stroke-width="3"/>
<text class="t" x="2062.8" y="663.6" font-size="33">L13=1.000992 m</text>
<line x1="1968.6" y1="699.7" x2="2037.7" y2="699.7" stroke="#a5db36" stroke-width="3"/>
<text class="t" x="2062.8" y="712.0" font-size="33">L14=1.001036 m</text>
<line x1="1968.6" y1="748.1" x2="2037.7" y2="748.1" stroke="#d2e21b" stroke-width="3"/>
<text class="t" x="2062.8" y="760.4" font-size="33">L15=1.001081 m</text>
<line x1="1968.6" y1="796.5" x2="2037.7" y2="796.5" stroke="#fde725" stroke-width="3"/>
<text class="t" x="2062.8" y="808.8" font-size="33">L16=1.001139 m</text>
<defs><filter id="b15" x="-2" y="-2" width="5" height="5" color-interpolation-filters="sRGB"><feGaussianBlur stdDeviation="1.5"/></filter><filter id="b20" x="-2" y="-2" width="5" height="5" color-interpolation-filters="sRGB"><feGaussianBlur stdDeviation="2"/></filter><filter id="b25" x="-2" y="-2" width="5" height="5" color-interpolation-filters="sRGB"><feGaussianBlur stdDeviation="2.5"/></filter><filter id="b30" x="-2" y="-2" width="5" height="5" color-interpolation-filters="sRGB"><feGaussianBlur stdDeviation="3"/></filter><filter id="b35" x="-2" y="-2" width="5" height="5" color-interpolation-filters="sRGB"><feGaussianBlur stdDeviation="3.5"/></filter><filter id="b40" x="-2" y="-2" width="5" height="5" color-interpolation-filters="sRGB"><feGaussianBlur stdDeviation="4"/></filter><filter id="b45" x="-2" y="-2" width="5" height="5" color-interpolation-filters="sRGB"><feGaussianBlur stdDeviation="4.5"/></filter><filter id="b50" x="-2" y="-2" width="5" height="5" color-interpolation-filters="sRGB"><feGaussianBlur stdDeviation="5"/></filter><radialGradient id="gk"><stop offset="0.000" stop-color="#000" stop-opacity="1.0000"/><stop offset="0.083" stop-color="#000" stop-opacity="0.9692"/><stop offset="0.167" stop-color="#000" stop-opacity="0.8825"/><stop offset="0.250" stop-color="#000" stop-opacity="0.7548"/><stop offset="0.333" stop-color="#000" stop-opacity="0.6065"/><stop offset="0.417" stop-color="#000" stop-opacity="0.4578"/><stop offset="0.500" stop-color="#000" stop-opacity="0.3247"/><stop offset="0.583" stop-color="#000" stop-opacity="0.2163"/><stop offset="0.667" stop-color="#000" stop-opacity="0.1353"/><stop offset="0.750" stop-color="#000" stop-opacity="0.0796"/><stop offset="0.833" stop-color="#000" stop-opacity="0.0439"/><stop offset="0.917" stop-color="#000" stop-opacity="0.0228"/><stop offset="1.000" stop-color="#000" stop-opacity="0.0111"/></radialGradient></defs>
<rect x="273.5" y="1886.6" width="171.8" height="171.5" fill="#5252a8"/><clipPath id="c1"><rect x="273.5" y="1886.6" width="171.8" height="171.5"/></clipPath><g clip-path="url(#c1)"><g filter="url(#jet)"><rect x="273.5" y="1886.6" width="171.8" height="171.5" fill="#000"/><ellipse cx="0" cy="0" rx="14.6" ry="8.1" fill="url(#gs)" opacity="0.970" transform="translate(350.7 1976.2) rotate(75.0)"/><ellipse cx="0" cy="0" rx="13.8" ry="6.5" fill="url(#gs)" opacity="0.620" transform="translate(359.4 1970.3) rotate(75.0)"/><ellipse cx="0" cy="0" rx="14.6" ry="8.1" fill="url(#gs)" opacity="0.970" transform="translate(368.1 1964.5) rotate(75.0)"/><ellipse cx="0" cy="0" rx="23.3" ry="3.2" fill="url(#gk)" opacity="1.000" transform="translate(355.0 1973.3) rotate(75.0)"/><ellipse cx="0" cy="0" rx="23.3" ry="3.2" fill="url(#gk)" opacity="1.000" transform="translate(363.8 1967.4) rotate(75.0)"/></g></g>
<rect x="469.7" y="1886.6" width="171.8" height="171.5" fill="#5252a8"/><clipPath id="c2"><rect x="469.7" y="1886.6" width="171.8" height="171.5"/></clipPath><g clip-path="url(#c2)"><g filter="url(#jet)"><rect x="469.7" y="1886.6" width="171.8" height="171.5" fill="#000"/><ellipse cx="0" cy="0" rx="5.5" ry="13.0" fill="none" stroke="#fff" stroke-width="3.5" stroke-opacity="0.620" filter="url(#b20)" transform="translate(556.4 1971.1) rotate(0.0)"/><polyline points="-1.9,-11.2 -1.5,-11.5 -1.1,-11.8 -0.7,-12.0 -0.3,-12.1 0.1,-12.1 0.5,-12.0 0.9,-11.9 1.4,-11.7 1.7,-11.4 2.1,-11.0 2.5,-10.5 2.9,-10.0" fill="none" stroke="#fff" stroke-width="4.5" stroke-linecap="round" stroke-linejoin="round" stroke-opacity="1.000" filter="url(#b20)" transform="translate(556.4 1971.1) rotate(0.0)"/><polyline points="1.9,11.2 1.5,11.5 1.1,11.8 0.7,12.0 0.3,12.1 -0.1,12.1 -0.5,12.0 -0.9,11.9 -1.4,11.7 -1.7,11.4 -2.1,11.0 -2.5,10.5 -2.9,10.0" fill="none" stroke="#fff" stroke-width="4.5" stroke-linecap="round" stroke-linejoin="round" stroke-opacity="1.000" filter="url(#b20)" transform="translate(556.4 1971.1) rotate(0.0)"/><ellipse cx="0" cy="0" rx="9.6" ry="6.6" fill="url(#gs)" opacity="0.360" transform="translate(556.4 1971.1) rotate(-20.0)"/></g></g>
<rect x="666.0" y="1886.6" width="171.8" height="171.5" fill="#5252a8"/><clipPath id="c3"><rect x="666.0" y="1886.6" width="171.8" height="171.5"/></clipPath><g clip-path="url(#c3)"><g filter="url(#jet)"><rect x="666.0" y="1886.6" width="171.8" height="171.5" fill="#000"/><ellipse cx="0" cy="0" rx="13.7" ry="8.6" fill="url(#gs)" opacity="0.970" transform="translate(744.9 1962.8) rotate(-70.0)"/><ellipse cx="0" cy="0" rx="11.2" ry="6.9" fill="url(#gs)" opacity="0.720" transform="translate(752.5 1970.9) rotate(-70.0)"/><ellipse cx="0" cy="0" rx="13.7" ry="8.6" fill="url(#gs)" opacity="0.970" transform="translate(760.1 1979.1) rotate(-70.0)"/><ellipse cx="0" cy="0" rx="21.9" ry="3.4" fill="url(#gk)" opacity="1.000" transform="translate(748.7 1966.9) rotate(-70.0)"/><ellipse cx="0" cy="0" rx="21.9" ry="3.4" fill="url(#gk)" opacity="1.000" transform="translate(756.3 1975.0) rotate(-70.0)"/></g></g>
<rect x="862.1" y="1886.6" width="171.8" height="171.5" fill="#5252a8"/><clipPath id="c4"><rect x="862.1" y="1886.6" width="171.8" height="171.5"/></clipPath><g clip-path="url(#c4)"><g filter="url(#jet)"><rect x="862.1" y="1886.6" width="171.8" height="171.5" fill="#000"/><ellipse cx="0" cy="0" rx="14.7" ry="12.9" fill="url(#gs)" opacity="1.000" transform="translate(950.0 1970.3) rotate(90.0)"/></g></g>
<text class="lab" x="100" y="1999.6" font-size="86.5" textLength="90" lengthAdjust="spacingAndGlyphs">L1</text>
<rect x="273.5" y="2071.9" width="171.8" height="171.5" fill="#5252a8"/><clipPath id="c5"><rect x="273.5" y="2071.9" width="171.8" height="171.5"/></clipPath><g clip-path="url(#c5)"><g filter="url(#jet)"><rect x="273.5" y="2071.9" width="171.8" height="171.5" fill="#000"/><ellipse cx="0" cy="0" rx="16.4" ry="9.3" fill="url(#gs)" opacity="0.970" transform="translate(349.9 2162.7) rotate(73.3)"/><ellipse cx="0" cy="0" rx="15.6" ry="7.4" fill="url(#gs)" opacity="0.620" transform="translate(359.4 2155.9) rotate(73.3)"/><ellipse cx="0" cy="0" rx="16.4" ry="9.3" fill="url(#gs)" opacity="0.970" transform="translate(368.9 2149.1) rotate(73.3)"/><ellipse cx="0" cy="0" rx="26.3" ry="3.5" fill="url(#gk)" opacity="1.000" transform="translate(354.6 2159.3) rotate(73.3)"/><ellipse cx="0" cy="0" rx="26.3" ry="3.5" fill="url(#gk)" opacity="1.000" transform="translate(364.2 2152.5) rotate(73.3)"/></g></g>
<rect x="469.7" y="2071.9" width="171.8" height="171.5" fill="#5252a8"/><clipPath id="c6"><rect x="469.7" y="2071.9" width="171.8" height="171.5"/></clipPath><g clip-path="url(#c6)"><g filter="url(#jet)"><rect x="469.7" y="2071.9" width="171.8" height="171.5" fill="#000"/><ellipse cx="0" cy="0" rx="6.8" ry="14.3" fill="none" stroke="#fff" stroke-width="3.9" stroke-opacity="0.620" filter="url(#b20)" transform="translate(556.3 2156.5) rotate(1.1)"/><polyline points="-2.5,-12.2 -1.9,-12.7 -1.4,-13.0 -0.8,-13.2 -0.2,-13.3 0.4,-13.3 1.0,-13.1 1.6,-12.9 2.1,-12.5 2.7,-12.0 3.2,-11.5 3.7,-10.8 4.2,-10.0" fill="none" stroke="#fff" stroke-width="5.0" stroke-linecap="round" stroke-linejoin="round" stroke-opacity="1.000" filter="url(#b20)" transform="translate(556.3 2156.5) rotate(0.0)"/><polyline points="2.5,12.2 1.9,12.7 1.4,13.0 0.8,13.2 0.2,13.3 -0.4,13.3 -1.0,13.1 -1.6,12.9 -2.1,12.5 -2.7,12.0 -3.2,11.5 -3.7,10.8 -4.2,10.0" fill="none" stroke="#fff" stroke-width="5.0" stroke-linecap="round" stroke-linejoin="round" stroke-opacity="1.000" filter="url(#b20)" transform="translate(556.3 2156.5) rotate(0.0)"/><ellipse cx="0" cy="0" rx="10.2" ry="6.9" fill="url(#gs)" opacity="0.296" transform="translate(556.3 2156.5) rotate(-20.0)"/></g></g>
<rect x="666.0" y="2071.9" width="171.8" height="171.5" fill="#5252a8"/><clipPath id="c7"><rect x="666.0" y="2071.9" width="171.8" height="171.5"/></clipPath><g clip-path="url(#c7)"><g filter="url(#jet)"><rect x="666.0" y="2071.9" width="171.8" height="171.5" fill="#000"/><ellipse cx="0" cy="0" rx="15.6" ry="10.3" fill="url(#gs)" opacity="0.970" transform="translate(744.0 2147.1) rotate(-70.0)"/><ellipse cx="0" cy="0" rx="12.8" ry="8.2" fill="url(#gs)" opacity="0.720" transform="translate(752.5 2156.2) rotate(-70.0)"/><ellipse cx="0" cy="0" rx="15.6" ry="10.3" fill="url(#gs)" opacity="0.970" transform="translate(761.1 2165.4) rotate(-70.0)"/><ellipse cx="0" cy="0" rx="24.9" ry="3.8" fill="url(#gk)" opacity="1.000" transform="translate(748.3 2151.7) rotate(-70.0)"/><ellipse cx="0" cy="0" rx="24.9" ry="3.8" fill="url(#gk)" opacity="1.000" transform="translate(756.8 2160.8) rotate(-70.0)"/></g></g>
<rect x="862.1" y="2071.9" width="171.8" height="171.5" fill="#5252a8"/><clipPath id="c8"><rect x="862.1" y="2071.9" width="171.8" height="171.5"/></clipPath><g clip-path="url(#c8)"><g filter="url(#jet)"><rect x="862.1" y="2071.9" width="171.8" height="171.5" fill="#000"/><ellipse cx="0" cy="0" rx="16.0" ry="13.8" fill="url(#gs)" opacity="1.000" transform="translate(949.9 2155.8) rotate(90.0)"/></g></g>
<text class="lab" x="100" y="2184.9" font-size="86.5" textLength="90" lengthAdjust="spacingAndGlyphs">L2</text>
<rect x="273.5" y="2257.3" width="171.8" height="171.5" fill="#5252a8"/><clipPath id="c9"><rect x="273.5" y="2257.3" width="171.8" height="171.5"/></clipPath><g clip-path="url(#c9)"><g filter="url(#jet)"><rect x="273.5" y="2257.3" width="171.8" height="171.5" fill="#000"/><ellipse cx="0" cy="0" rx="18.2" ry="10.5" fill="url(#gs)" opacity="0.970" transform="translate(349.1 2349.2) rotate(71.6)"/><ellipse cx="0" cy="0" rx="17.3" ry="8.4" fill="url(#gs)" opacity="0.620" transform="translate(359.4 2341.5) rotate(71.6)"/><ellipse cx="0" cy="0" rx="18.2" ry="10.5" fill="url(#gs)" opacity="0.970" transform="translate(369.7 2333.8) rotate(71.6)"/><ellipse cx="0" cy="0" rx="29.2" ry="3.9" fill="url(#gk)" opacity="1.000" transform="translate(354.3 2345.3) rotate(71.6)"/><ellipse cx="0" cy="0" rx="29.2" ry="3.9" fill="url(#gk)" opacity="1.000" transform="translate(364.5 2337.6) rotate(71.6)"/></g></g>
<rect x="469.7" y="2257.3" width="171.8" height="171.5" fill="#5252a8"/><clipPath id="c10"><rect x="469.7" y="2257.3" width="171.8" height="171.5"/></clipPath><g clip-path="url(#c10)"><g filter="url(#jet)"><rect x="469.7" y="2257.3" width="171.8" height="171.5" fill="#000"/><ellipse cx="0" cy="0" rx="8.2" ry="15.6" fill="none" stroke="#fff" stroke-width="4.4" stroke-opacity="0.620" filter="url(#b25)" transform="translate(556.3 2341.8) rotate(2.3)"/><polyline points="-3.1,-13.2 -2.3,-13.8 -1.6,-14.2 -0.8,-14.4 0.0,-14.5 0.8,-14.4 1.6,-14.2 2.3,-13.8 3.1,-13.2 3.8,-12.5 4.5,-11.7 5.1,-10.8 5.6,-9.7" fill="none" stroke="#fff" stroke-width="5.5" stroke-linecap="round" stroke-linejoin="round" stroke-opacity="1.000" filter="url(#b20)" transform="translate(556.3 2341.8) rotate(0.0)"/><polyline points="3.1,13.2 2.3,13.8 1.6,14.2 0.8,14.4 0.0,14.5 -0.8,14.4 -1.6,14.2 -2.3,13.8 -3.1,13.2 -3.8,12.5 -4.5,11.7 -5.1,10.8 -5.6,9.7" fill="none" stroke="#fff" stroke-width="5.5" stroke-linecap="round" stroke-linejoin="round" stroke-opacity="1.000" filter="url(#b20)" transform="translate(556.3 2341.8) rotate(0.0)"/><ellipse cx="0" cy="0" rx="10.7" ry="7.3" fill="url(#gs)" opacity="0.231" transform="translate(556.3 2341.8) rotate(-20.0)"/></g></g>
<rect x="666.0" y="2257.3" width="171.8" height="171.5" fill="#5252a8"/><clipPath id="c11"><rect x="666.0" y="2257.3" width="171.8" height="171.5"/></clipPath><g clip-path="url(#c11)"><g filter="url(#jet)"><rect x="666.0" y="2257.3" width="171.8" height="171.5" fill="#000"/><ellipse cx="0" cy="0" rx="17.4" ry="12.0" fill="url(#gs)" opacity="0.970" transform="translate(743.2 2331.4) rotate(-70.0)"/><ellipse cx="0" cy="0" rx="14.3" ry="9.6" fill="url(#gs)" opacity="0.720" transform="translate(752.6 2341.5) rotate(-70.0)"/><ellipse cx="0" cy="0" rx="17.4" ry="12.0" fill="url(#gs)" opacity="0.970" transform="translate(762.0 2351.7) rotate(-70.0)"/><ellipse cx="0" cy="0" rx="27.8" ry="4.1" fill="url(#gk)" opacity="1.000" transform="translate(747.9 2336.5) rotate(-70.0)"/><ellipse cx="0" cy="0" rx="27.8" ry="4.1" fill="url(#gk)" opacity="1.000" transform="translate(757.3 2346.6) rotate(-70.0)"/></g></g>
<rect x="862.1" y="2257.3" width="171.8" height="171.5" fill="#5252a8"/><clipPath id="c12"><rect x="862.1" y="2257.3" width="171.8" height="171.5"/></clipPath><g clip-path="url(#c12)"><g filter="url(#jet)"><rect x="862.1" y="2257.3" width="171.8" height="171.5" fill="#000"/><ellipse cx="0" cy="0" rx="17.4" ry="14.8" fill="url(#gs)" opacity="1.000" transform="translate(949.7 2341.2) rotate(90.0)"/></g></g>
<text class="lab" x="100" y="2370.3" font-size="86.5" textLength="90" lengthAdjust="spacingAndGlyphs">L3</text>
<rect x="273.5" y="2442.6" width="171.8" height="171.5" fill="#5252a8"/><clipPath id="c13"><rect x="273.5" y="2442.6" width="171.8" height="171.5"/></clipPath><g clip-path="url(#c13)"><g filter="url(#jet)"><rect x="273.5" y="2442.6" width="171.8" height="171.5" fill="#000"/><ellipse cx="0" cy="0" rx="20.1" ry="11.6" fill="url(#gs)" opacity="0.970" transform="translate(348.4 2535.7) rotate(69.9)"/><ellipse cx="0" cy="0" rx="19.1" ry="9.3" fill="url(#gs)" opacity="0.620" transform="translate(359.4 2527.0) rotate(69.9)"/><ellipse cx="0" cy="0" rx="20.1" ry="11.6" fill="url(#gs)" opacity="0.970" transform="translate(370.4 2518.4) rotate(69.9)"/><ellipse cx="0" cy="0" rx="32.1" ry="4.2" fill="url(#gk)" opacity="1.000" transform="translate(353.9 2531.4) rotate(69.9)"/><ellipse cx="0" cy="0" rx="32.1" ry="4.2" fill="url(#gk)" opacity="1.000" transform="translate(364.9 2522.7) rotate(69.9)"/></g></g>
<rect x="469.7" y="2442.6" width="171.8" height="171.5" fill="#5252a8"/><clipPath id="c14"><rect x="469.7" y="2442.6" width="171.8" height="171.5"/></clipPath><g clip-path="url(#c14)"><g filter="url(#jet)"><rect x="469.7" y="2442.6" width="171.8" height="171.5" fill="#000"/><ellipse cx="0" cy="0" rx="9.5" ry="16.9" fill="none" stroke="#fff" stroke-width="4.8" stroke-opacity="0.620" filter="url(#b25)" transform="translate(556.2 2527.1) rotate(3.4)"/><polyline points="-3.7,-14.2 -2.8,-14.9 -1.8,-15.4 -0.8,-15.6 0.3,-15.7 1.3,-15.5 2.3,-15.1 3.3,-14.6 4.2,-13.8 5.1,-12.8 5.9,-11.7 6.6,-10.4 7.2,-9.0" fill="none" stroke="#fff" stroke-width="6.0" stroke-linecap="round" stroke-linejoin="round" stroke-opacity="1.000" filter="url(#b25)" transform="translate(556.2 2527.1) rotate(0.0)"/><polyline points="3.7,14.2 2.8,14.9 1.8,15.4 0.8,15.6 -0.3,15.7 -1.3,15.5 -2.3,15.1 -3.3,14.6 -4.2,13.8 -5.1,12.8 -5.9,11.7 -6.6,10.4 -7.2,9.0" fill="none" stroke="#fff" stroke-width="6.0" stroke-linecap="round" stroke-linejoin="round" stroke-opacity="1.000" filter="url(#b25)" transform="translate(556.2 2527.1) rotate(0.0)"/><ellipse cx="0" cy="0" rx="11.3" ry="7.6" fill="url(#gs)" opacity="0.167" transform="translate(556.2 2527.1) rotate(-20.0)"/></g></g>
<rect x="666.0" y="2442.6" width="171.8" height="171.5" fill="#5252a8"/><clipPath id="c15"><rect x="666.0" y="2442.6" width="171.8" height="171.5"/></clipPath><g clip-path="url(#c15)"><g filter="url(#jet)"><rect x="666.0" y="2442.6" width="171.8" height="171.5" fill="#000"/><ellipse cx="0" cy="0" rx="19.2" ry="13.7" fill="url(#gs)" opacity="0.970" transform="translate(742.4 2515.7) rotate(-70.0)"/><ellipse cx="0" cy="0" rx="15.8" ry="11.0" fill="url(#gs)" opacity="0.720" transform="translate(752.6 2526.8) rotate(-70.0)"/><ellipse cx="0" cy="0" rx="19.2" ry="13.7" fill="url(#gs)" opacity="0.970" transform="translate(762.9 2538.0) rotate(-70.0)"/><ellipse cx="0" cy="0" rx="30.8" ry="4.5" fill="url(#gk)" opacity="1.000" transform="translate(747.5 2521.3) rotate(-70.0)"/><ellipse cx="0" cy="0" rx="30.8" ry="4.5" fill="url(#gk)" opacity="1.000" transform="translate(757.8 2532.4) rotate(-70.0)"/></g></g>
<rect x="862.1" y="2442.6" width="171.8" height="171.5" fill="#5252a8"/><clipPath id="c16"><rect x="862.1" y="2442.6" width="171.8" height="171.5"/></clipPath><g clip-path="url(#c16)"><g filter="url(#jet)"><rect x="862.1" y="2442.6" width="171.8" height="171.5" fill="#000"/><ellipse cx="0" cy="0" rx="18.7" ry="15.7" fill="url(#gs)" opacity="1.000" transform="translate(949.6 2526.7) rotate(90.0)"/></g></g>
<text class="lab" x="100" y="2555.6" font-size="86.5" textLength="90" lengthAdjust="spacingAndGlyphs">L4</text>
<rect x="273.5" y="2628.0" width="171.8" height="171.5" fill="#5252a8"/><clipPath id="c17"><rect x="273.5" y="2628.0" width="171.8" height="171.5"/></clipPath><g clip-path="url(#c17)"><g filter="url(#jet)"><rect x="273.5" y="2628.0" width="171.8" height="171.5" fill="#000"/><ellipse cx="0" cy="0" rx="21.9" ry="12.8" fill="url(#gs)" opacity="0.970" transform="translate(347.7 2722.3) rotate(68.1)"/><ellipse cx="0" cy="0" rx="20.8" ry="10.2" fill="url(#gs)" opacity="0.620" transform="translate(359.4 2712.6) rotate(68.1)"/><ellipse cx="0" cy="0" rx="21.9" ry="12.8" fill="url(#gs)" opacity="0.970" transform="translate(371.1 2702.9) rotate(68.1)"/><ellipse cx="0" cy="0" rx="35.1" ry="4.6" fill="url(#gk)" opacity="1.000" transform="translate(353.6 2717.5) rotate(68.1)"/><ellipse cx="0" cy="0" rx="35.1" ry="4.6" fill="url(#gk)" opacity="1.000" transform="translate(365.2 2707.8) rotate(68.1)"/></g></g>
<rect x="469.7" y="2628.0" width="171.8" height="171.5" fill="#5252a8"/><clipPath id="c18"><rect x="469.7" y="2628.0" width="171.8" height="171.5"/></clipPath><g clip-path="url(#c18)"><g filter="url(#jet)"><rect x="469.7" y="2628.0" width="171.8" height="171.5" fill="#000"/><ellipse cx="0" cy="0" rx="12.0" ry="18.1" fill="none" stroke="#fff" stroke-width="5.2" stroke-opacity="0.620" filter="url(#b30)" transform="translate(556.2 2712.4) rotate(4.6)"/><polyline points="-4.2,-15.6 -2.6,-16.4 -1.0,-16.8 0.6,-16.8 2.2,-16.5 3.8,-15.9 5.2,-14.9 6.6,-13.6 7.8,-12.0 8.9,-10.2 9.8,-8.1 10.5,-5.9 10.9,-3.5" fill="none" stroke="#fff" stroke-width="6.5" stroke-linecap="round" stroke-linejoin="round" stroke-opacity="1.000" filter="url(#b25)" transform="translate(556.2 2712.4) rotate(0.0)"/><polyline points="4.2,15.6 2.6,16.4 1.0,16.8 -0.6,16.8 -2.2,16.5 -3.8,15.9 -5.2,14.9 -6.6,13.6 -7.8,12.0 -8.9,10.2 -9.8,8.1 -10.5,5.9 -10.9,3.5" fill="none" stroke="#fff" stroke-width="6.5" stroke-linecap="round" stroke-linejoin="round" stroke-opacity="1.000" filter="url(#b25)" transform="translate(556.2 2712.4) rotate(0.0)"/><ellipse cx="0" cy="0" rx="11.8" ry="8.0" fill="url(#gs)" opacity="0.103" transform="translate(556.2 2712.4) rotate(-20.0)"/></g></g>
<rect x="666.0" y="2628.0" width="171.8" height="171.5" fill="#5252a8"/><clipPath id="c19"><rect x="666.0" y="2628.0" width="171.8" height="171.5"/></clipPath><g clip-path="url(#c19)"><g filter="url(#jet)"><rect x="666.0" y="2628.0" width="171.8" height="171.5" fill="#000"/><ellipse cx="0" cy="0" rx="21.1" ry="15.4" fill="url(#gs)" opacity="0.970" transform="translate(741.6 2700.0) rotate(-70.0)"/><ellipse cx="0" cy="0" rx="17.3" ry="12.3" fill="url(#gs)" opacity="0.720" transform="translate(752.7 2712.1) rotate(-70.0)"/><ellipse cx="0" cy="0" rx="21.1" ry="15.4" fill="url(#gs)" opacity="0.970" transform="translate(763.8 2724.3) rotate(-70.0)"/><ellipse cx="0" cy="0" rx="33.7" ry="4.9" fill="url(#gk)" opacity="1.000" transform="translate(747.1 2706.0) rotate(-70.0)"/><ellipse cx="0" cy="0" rx="33.7" ry="4.9" fill="url(#gk)" opacity="1.000" transform="translate(758.2 2718.2) rotate(-70.0)"/></g></g>
<rect x="862.1" y="2628.0" width="171.8" height="171.5" fill="#5252a8"/><clipPath id="c20"><rect x="862.1" y="2628.0" width="171.8" height="171.5"/></clipPath><g clip-path="url(#c20)"><g filter="url(#jet)"><rect x="862.1" y="2628.0" width="171.8" height="171.5" fill="#000"/><ellipse cx="0" cy="0" rx="20.0" ry="16.7" fill="url(#gs)" opacity="1.000" transform="translate(949.4 2712.1) rotate(90.0)"/></g></g>
<text class="lab" x="100" y="2741.0" font-size="86.5" textLength="90" lengthAdjust="spacingAndGlyphs">L5</text>
<rect x="273.5" y="2813.3" width="171.8" height="171.5" fill="#5252a8"/><clipPath id="c21"><rect x="273.5" y="2813.3" width="171.8" height="171.5"/></clipPath><g clip-path="url(#c21)"><g filter="url(#jet)"><rect x="273.5" y="2813.3" width="171.8" height="171.5" fill="#000"/><ellipse cx="0" cy="0" rx="23.8" ry="14.0" fill="url(#gs)" opacity="0.970" transform="translate(347.1 2908.9) rotate(66.4)"/><ellipse cx="0" cy="0" rx="22.6" ry="11.2" fill="url(#gs)" opacity="0.620" transform="translate(359.4 2898.2) rotate(66.4)"/><ellipse cx="0" cy="0" rx="23.8" ry="14.0" fill="url(#gs)" opacity="0.970" transform="translate(371.7 2887.4) rotate(66.4)"/><ellipse cx="0" cy="0" rx="38.0" ry="4.9" fill="url(#gk)" opacity="1.000" transform="translate(353.2 2903.6) rotate(66.4)"/><ellipse cx="0" cy="0" rx="38.0" ry="4.9" fill="url(#gk)" opacity="1.000" transform="translate(365.6 2892.8) rotate(66.4)"/></g></g>
<rect x="469.7" y="2813.3" width="171.8" height="171.5" fill="#5252a8"/><clipPath id="c22"><rect x="469.7" y="2813.3" width="171.8" height="171.5"/></clipPath><g clip-path="url(#c22)"><g filter="url(#jet)"><rect x="469.7" y="2813.3" width="171.8" height="171.5" fill="#000"/><ellipse cx="0" cy="0" rx="13.0" ry="19.4" fill="none" stroke="#fff" stroke-width="5.6" stroke-opacity="0.620" filter="url(#b30)" transform="translate(556.1 2897.8) rotate(5.7)"/><polyline points="-3.1,-17.5 -1.5,-17.9 0.2,-18.1 1.8,-17.9 3.4,-17.3 5.0,-16.4 6.5,-15.3 7.8,-13.8 9.0,-12.1 10.0,-10.1 10.9,-8.0 11.5,-5.7 11.9,-3.2" fill="none" stroke="#fff" stroke-width="7.0" stroke-linecap="round" stroke-linejoin="round" stroke-opacity="1.000" filter="url(#b25)" transform="translate(556.1 2897.8) rotate(0.0)"/><polyline points="3.1,17.5 1.5,17.9 -0.2,18.1 -1.8,17.9 -3.4,17.3 -5.0,16.4 -6.5,15.3 -7.8,13.8 -9.0,12.1 -10.0,10.1 -10.9,8.0 -11.5,5.7 -11.9,3.2" fill="none" stroke="#fff" stroke-width="7.0" stroke-linecap="round" stroke-linejoin="round" stroke-opacity="1.000" filter="url(#b25)" transform="translate(556.1 2897.8) rotate(0.0)"/><ellipse cx="0" cy="0" rx="12.4" ry="8.3" fill="url(#gs)" opacity="0.039" transform="translate(556.1 2897.8) rotate(-20.0)"/></g></g>
<rect x="666.0" y="2813.3" width="171.8" height="171.5" fill="#5252a8"/><clipPath id="c23"><rect x="666.0" y="2813.3" width="171.8" height="171.5"/></clipPath><g clip-path="url(#c23)"><g filter="url(#jet)"><rect x="666.0" y="2813.3" width="171.8" height="171.5" fill="#000"/><ellipse cx="0" cy="0" rx="22.9" ry="17.1" fill="url(#gs)" opacity="0.970" transform="translate(740.8 2884.3) rotate(-70.0)"/><ellipse cx="0" cy="0" rx="18.8" ry="13.7" fill="url(#gs)" opacity="0.720" transform="translate(752.7 2897.4) rotate(-70.0)"/><ellipse cx="0" cy="0" rx="22.9" ry="17.1" fill="url(#gs)" opacity="0.970" transform="translate(764.7 2910.6) rotate(-70.0)"/><ellipse cx="0" cy="0" rx="36.6" ry="5.3" fill="url(#gk)" opacity="1.000" transform="translate(746.7 2890.8) rotate(-70.0)"/><ellipse cx="0" cy="0" rx="36.6" ry="5.3" fill="url(#gk)" opacity="1.000" transform="translate(758.7 2904.0) rotate(-70.0)"/></g></g>
<rect x="862.1" y="2813.3" width="171.8" height="171.5" fill="#5252a8"/><clipPath id="c24"><rect x="862.1" y="2813.3" width="171.8" height="171.5"/></clipPath><g clip-path="url(#c24)"><g filter="url(#jet)"><rect x="862.1" y="2813.3" width="171.8" height="171.5" fill="#000"/><ellipse cx="0" cy="0" rx="21.3" ry="17.6" fill="url(#gs)" opacity="1.000" transform="translate(949.3 2897.5) rotate(90.0)"/></g></g>
<text class="lab" x="100" y="2926.3" font-size="86.5" textLength="90" lengthAdjust="spacingAndGlyphs">L6</text>
<rect x="273.5" y="2998.7" width="171.8" height="171.5" fill="#5252a8"/><clipPath id="c25"><rect x="273.5" y="2998.7" width="171.8" height="171.5"/></clipPath><g clip-path="url(#c25)"><g filter="url(#jet)"><rect x="273.5" y="2998.7" width="171.8" height="171.5" fill="#000"/><ellipse cx="0" cy="0" rx="25.6" ry="15.1" fill="url(#gs)" opacity="0.970" transform="translate(346.5 3095.6) rotate(64.7)"/><ellipse cx="0" cy="0" rx="24.3" ry="12.1" fill="url(#gs)" opacity="0.620" transform="translate(359.4 3083.7) rotate(64.7)"/><ellipse cx="0" cy="0" rx="25.6" ry="15.1" fill="url(#gs)" opacity="0.970" transform="translate(372.3 3071.9) rotate(64.7)"/><ellipse cx="0" cy="0" rx="40.9" ry="5.3" fill="url(#gk)" opacity="1.000" transform="translate(352.9 3089.7) rotate(64.7)"/><ellipse cx="0" cy="0" rx="40.9" ry="5.3" fill="url(#gk)" opacity="1.000" transform="translate(365.9 3077.8) rotate(64.7)"/></g></g>
<rect x="469.7" y="2998.7" width="171.8" height="171.5" fill="#5252a8"/><clipPath id="c26"><rect x="469.7" y="2998.7" width="171.8" height="171.5"/></clipPath><g clip-path="url(#c26)"><g filter="url(#jet)"><rect x="469.7" y="2998.7" width="171.8" height="171.5" fill="#000"/><ellipse cx="0" cy="0" rx="14.0" ry="20.7" fill="none" stroke="#fff" stroke-width="6.1" stroke-opacity="0.620" filter="url(#b35)" transform="translate(556.1 3083.1) rotate(6.9)"/><polyline points="-1.8,-19.1 -0.1,-19.3 1.6,-19.1 3.2,-18.7 4.8,-17.9 6.4,-16.8 7.8,-15.5 9.1,-13.8 10.2,-12.0 11.2,-9.9 11.9,-7.7 12.5,-5.3 12.9,-2.9" fill="none" stroke="#fff" stroke-width="7.5" stroke-linecap="round" stroke-linejoin="round" stroke-opacity="1.000" filter="url(#b30)" transform="translate(556.1 3083.1) rotate(0.0)"/><polyline points="1.8,19.1 0.1,19.3 -1.6,19.1 -3.2,18.7 -4.8,17.9 -6.4,16.8 -7.8,15.5 -9.1,13.8 -10.2,12.0 -11.2,9.9 -11.9,7.7 -12.5,5.3 -12.9,2.9" fill="none" stroke="#fff" stroke-width="7.5" stroke-linecap="round" stroke-linejoin="round" stroke-opacity="1.000" filter="url(#b30)" transform="translate(556.1 3083.1) rotate(0.0)"/></g></g>
<rect x="666.0" y="2998.7" width="171.8" height="171.5" fill="#5252a8"/><clipPath id="c27"><rect x="666.0" y="2998.7" width="171.8" height="171.5"/></clipPath><g clip-path="url(#c27)"><g filter="url(#jet)"><rect x="666.0" y="2998.7" width="171.8" height="171.5" fill="#000"/><ellipse cx="0" cy="0" rx="24.7" ry="18.9" fill="url(#gs)" opacity="0.970" transform="translate(740.0 3068.6) rotate(-70.0)"/><ellipse cx="0" cy="0" rx="20.3" ry="15.1" fill="url(#gs)" opacity="0.720" transform="translate(752.8 3082.7) rotate(-70.0)"/><ellipse cx="0" cy="0" rx="24.7" ry="18.9" fill="url(#gs)" opacity="0.970" transform="translate(765.6 3096.9) rotate(-70.0)"/><ellipse cx="0" cy="0" rx="39.6" ry="5.7" fill="url(#gk)" opacity="1.000" transform="translate(746.4 3075.6) rotate(-70.0)"/><ellipse cx="0" cy="0" rx="39.6" ry="5.7" fill="url(#gk)" opacity="1.000" transform="translate(759.2 3089.8) rotate(-70.0)"/></g></g>
<rect x="862.1" y="2998.7" width="171.8" height="171.5" fill="#5252a8"/><clipPath id="c28"><rect x="862.1" y="2998.7" width="171.8" height="171.5"/></clipPath><g clip-path="url(#c28)"><g filter="url(#jet)"><rect x="862.1" y="2998.7" width="171.8" height="171.5" fill="#000"/><ellipse cx="0" cy="0" rx="22.7" ry="18.6" fill="url(#gs)" opacity="1.000" transform="translate(949.1 3083.0) rotate(90.0)"/></g></g>
<text class="lab" x="100" y="3111.7" font-size="86.5" textLength="90" lengthAdjust="spacingAndGlyphs">L7</text>
<rect x="273.5" y="3184.1" width="171.8" height="171.5" fill="#5252a8"/><clipPath id="c29"><rect x="273.5" y="3184.1" width="171.8" height="171.5"/></clipPath><g clip-path="url(#c29)"><g filter="url(#jet)"><rect x="273.5" y="3184.1" width="171.8" height="171.5" fill="#000"/><ellipse cx="0" cy="0" rx="27.4" ry="16.3" fill="url(#gs)" opacity="0.970" transform="translate(345.9 3282.3) rotate(63.0)"/><ellipse cx="0" cy="0" rx="26.1" ry="13.0" fill="url(#gs)" opacity="0.620" transform="translate(359.4 3269.3) rotate(63.0)"/><ellipse cx="0" cy="0" rx="27.4" ry="16.3" fill="url(#gs)" opacity="0.970" transform="translate(372.9 3256.3) rotate(63.0)"/><ellipse cx="0" cy="0" rx="43.9" ry="5.6" fill="url(#gk)" opacity="1.000" transform="translate(352.7 3275.8) rotate(63.0)"/><ellipse cx="0" cy="0" rx="43.9" ry="5.6" fill="url(#gk)" opacity="1.000" transform="translate(366.1 3262.8) rotate(63.0)"/></g></g>
<rect x="469.7" y="3184.1" width="171.8" height="171.5" fill="#5252a8"/><clipPath id="c30"><rect x="469.7" y="3184.1" width="171.8" height="171.5"/></clipPath><g clip-path="url(#c30)"><g filter="url(#jet)"><rect x="469.7" y="3184.1" width="171.8" height="171.5" fill="#000"/><ellipse cx="0" cy="0" rx="15.0" ry="22.0" fill="none" stroke="#fff" stroke-width="6.5" stroke-opacity="0.620" filter="url(#b35)" transform="translate(556.0 3268.4) rotate(8.0)"/><polyline points="-0.2,-20.5 1.5,-20.3 3.1,-19.9 4.8,-19.2 6.3,-18.2 7.8,-17.0 9.2,-15.4 10.4,-13.7 11.4,-11.7 12.3,-9.6 13.0,-7.3 13.5,-4.9 13.8,-2.5" fill="none" stroke="#fff" stroke-width="8.0" stroke-linecap="round" stroke-linejoin="round" stroke-opacity="1.000" filter="url(#b30)" transform="translate(556.0 3268.4) rotate(0.0)"/><polyline points="0.2,20.5 -1.5,20.3 -3.1,19.9 -4.8,19.2 -6.3,18.2 -7.8,17.0 -9.2,15.4 -10.4,13.7 -11.4,11.7 -12.3,9.6 -13.0,7.3 -13.5,4.9 -13.8,2.5" fill="none" stroke="#fff" stroke-width="8.0" stroke-linecap="round" stroke-linejoin="round" stroke-opacity="1.000" filter="url(#b30)" transform="translate(556.0 3268.4) rotate(0.0)"/></g></g>
<rect x="666.0" y="3184.1" width="171.8" height="171.5" fill="#5252a8"/><clipPath id="c31"><rect x="666.0" y="3184.1" width="171.8" height="171.5"/></clipPath><g clip-path="url(#c31)"><g filter="url(#jet)"><rect x="666.0" y="3184.1" width="171.8" height="171.5" fill="#000"/><ellipse cx="0" cy="0" rx="26.6" ry="20.6" fill="url(#gs)" opacity="0.970" transform="translate(739.1 3252.8) rotate(-70.0)"/><ellipse cx="0" cy="0" rx="21.8" ry="16.5" fill="url(#gs)" opacity="0.720" transform="translate(752.8 3268.0) rotate(-70.0)"/><ellipse cx="0" cy="0" rx="26.6" ry="20.6" fill="url(#gs)" opacity="0.970" transform="translate(766.5 3283.2) rotate(-70.0)"/><ellipse cx="0" cy="0" rx="42.5" ry="6.1" fill="url(#gk)" opacity="1.000" transform="translate(746.0 3260.4) rotate(-70.0)"/><ellipse cx="0" cy="0" rx="42.5" ry="6.1" fill="url(#gk)" opacity="1.000" transform="translate(759.6 3275.6) rotate(-70.0)"/></g></g>
<rect x="862.1" y="3184.1" width="171.8" height="171.5" fill="#5252a8"/><clipPath id="c32"><rect x="862.1" y="3184.1" width="171.8" height="171.5"/></clipPath><g clip-path="url(#c32)"><g filter="url(#jet)"><rect x="862.1" y="3184.1" width="171.8" height="171.5" fill="#000"/><ellipse cx="0" cy="0" rx="24.0" ry="19.5" fill="url(#gs)" opacity="1.000" transform="translate(949.0 3268.4) rotate(90.0)"/></g></g>
<text class="lab" x="100" y="3297.1" font-size="86.5" textLength="90" lengthAdjust="spacingAndGlyphs">L8</text>
<rect x="1598.3" y="1886.6" width="171.4" height="171.5" fill="#5252a8"/><clipPath id="c33"><rect x="1598.3" y="1886.6" width="171.4" height="171.5"/></clipPath><g clip-path="url(#c33)"><g filter="url(#jet)"><rect x="1598.3" y="1886.6" width="171.4" height="171.5" fill="#000"/><ellipse cx="0" cy="0" rx="31.9" ry="21.8" fill="url(#gs)" opacity="1.000" transform="translate(1669.3 1985.1) rotate(60.0)"/><ellipse cx="0" cy="0" rx="28.7" ry="14.9" fill="url(#gs)" opacity="0.620" transform="translate(1684.0 1970.3) rotate(60.0)"/><ellipse cx="0" cy="0" rx="31.9" ry="21.8" fill="url(#gs)" opacity="1.000" transform="translate(1698.7 1955.6) rotate(60.0)"/><ellipse cx="0" cy="0" rx="51.1" ry="8.1" fill="url(#gk)" opacity="1.000" transform="translate(1676.6 1977.7) rotate(60.0)"/><ellipse cx="0" cy="0" rx="51.1" ry="8.1" fill="url(#gk)" opacity="1.000" transform="translate(1691.4 1963.0) rotate(60.0)"/></g></g>
<rect x="1792.2" y="1886.6" width="171.4" height="171.5" fill="#5252a8"/><clipPath id="c34"><rect x="1792.2" y="1886.6" width="171.4" height="171.5"/></clipPath><g clip-path="url(#c34)"><g filter="url(#jet)"><rect x="1792.2" y="1886.6" width="171.4" height="171.5" fill="#000"/><ellipse cx="0" cy="0" rx="26.1" ry="20.3" fill="url(#gs)" opacity="1.000" transform="translate(1863.3 1953.8) rotate(-70.0)"/><ellipse cx="0" cy="0" rx="24.5" ry="17.8" fill="url(#gs)" opacity="0.800" transform="translate(1878.7 1970.3) rotate(-70.0)"/><ellipse cx="0" cy="0" rx="26.1" ry="20.3" fill="url(#gs)" opacity="1.000" transform="translate(1894.1 1986.9) rotate(-70.0)"/><ellipse cx="0" cy="0" rx="41.8" ry="8.1" fill="url(#gk)" opacity="1.000" transform="translate(1871.0 1962.1) rotate(-70.0)"/><ellipse cx="0" cy="0" rx="41.8" ry="8.1" fill="url(#gk)" opacity="1.000" transform="translate(1886.4 1978.6) rotate(-70.0)"/></g></g>
<rect x="1986.1" y="1886.6" width="174.2" height="171.5" fill="#5252a8"/><clipPath id="c35"><rect x="1986.1" y="1886.6" width="174.2" height="171.5"/></clipPath><g clip-path="url(#c35)"><g filter="url(#jet)"><rect x="1986.1" y="1886.6" width="174.2" height="171.5" fill="#000"/><ellipse cx="0" cy="0" rx="27.6" ry="21.8" fill="url(#gs)" opacity="1.000" transform="translate(2074.1 1970.1) rotate(90.0)"/></g></g>
<text class="lab" x="1406" y="1999.6" font-size="86.5" textLength="90" lengthAdjust="spacingAndGlyphs">L9</text>
<rect x="1598.3" y="2071.9" width="171.4" height="171.5" fill="#5252a8"/><clipPath id="c36"><rect x="1598.3" y="2071.9" width="171.4" height="171.5"/></clipPath><g clip-path="url(#c36)"><g filter="url(#jet)"><rect x="1598.3" y="2071.9" width="171.4" height="171.5" fill="#000"/><ellipse cx="0" cy="0" rx="35.5" ry="24.1" fill="url(#gs)" opacity="1.000" transform="translate(1668.1 2172.4) rotate(60.3)"/><ellipse cx="0" cy="0" rx="31.9" ry="16.4" fill="url(#gs)" opacity="0.620" transform="translate(1684.0 2155.7) rotate(60.3)"/><ellipse cx="0" cy="0" rx="35.5" ry="24.1" fill="url(#gs)" opacity="1.000" transform="translate(1699.9 2139.0) rotate(60.3)"/><ellipse cx="0" cy="0" rx="56.7" ry="9.0" fill="url(#gk)" opacity="1.000" transform="translate(1676.0 2164.0) rotate(60.3)"/><ellipse cx="0" cy="0" rx="56.7" ry="9.0" fill="url(#gk)" opacity="1.000" transform="translate(1692.0 2147.4) rotate(60.3)"/></g></g>
<rect x="1792.2" y="2071.9" width="171.4" height="171.5" fill="#5252a8"/><clipPath id="c37"><rect x="1792.2" y="2071.9" width="171.4" height="171.5"/></clipPath><g clip-path="url(#c37)"><g filter="url(#jet)"><rect x="1792.2" y="2071.9" width="171.4" height="171.5" fill="#000"/><ellipse cx="0" cy="0" rx="31.9" ry="23.7" fill="url(#gs)" opacity="1.000" transform="translate(1861.3 2137.1) rotate(-70.0)"/><ellipse cx="0" cy="0" rx="31.3" ry="20.7" fill="url(#gs)" opacity="0.800" transform="translate(1878.7 2155.7) rotate(-70.0)"/><ellipse cx="0" cy="0" rx="31.9" ry="23.7" fill="url(#gs)" opacity="1.000" transform="translate(1896.1 2174.3) rotate(-70.0)"/><ellipse cx="0" cy="0" rx="51.0" ry="9.2" fill="url(#gk)" opacity="1.000" transform="translate(1870.0 2146.4) rotate(-70.0)"/><ellipse cx="0" cy="0" rx="51.0" ry="9.2" fill="url(#gk)" opacity="1.000" transform="translate(1887.4 2165.0) rotate(-70.0)"/></g></g>
<rect x="1986.1" y="2071.9" width="174.2" height="171.5" fill="#5252a8"/><clipPath id="c38"><rect x="1986.1" y="2071.9" width="174.2" height="171.5"/></clipPath><g clip-path="url(#c38)"><g filter="url(#jet)"><rect x="1986.1" y="2071.9" width="174.2" height="171.5" fill="#000"/><ellipse cx="0" cy="0" rx="28.3" ry="22.9" fill="url(#gs)" opacity="1.000" transform="translate(2074.1 2155.5) rotate(87.0)"/></g></g>
<text class="lab" x="1406" y="2184.9" font-size="86.5" textLength="130" lengthAdjust="spacingAndGlyphs">L10</text>
<rect x="1598.3" y="2257.3" width="171.4" height="171.5" fill="#5252a8"/><clipPath id="c39"><rect x="1598.3" y="2257.3" width="171.4" height="171.5"/></clipPath><g clip-path="url(#c39)"><g filter="url(#jet)"><rect x="1598.3" y="2257.3" width="171.4" height="171.5" fill="#000"/><ellipse cx="0" cy="0" rx="40.6" ry="26.9" fill="url(#gs)" opacity="1.000" transform="translate(1666.4 2360.0) rotate(58.7)"/><ellipse cx="0" cy="0" rx="36.6" ry="18.3" fill="url(#gs)" opacity="0.620" transform="translate(1684.0 2341.0) rotate(58.7)"/><ellipse cx="0" cy="0" rx="40.6" ry="26.9" fill="url(#gs)" opacity="1.000" transform="translate(1701.6 2322.1) rotate(58.7)"/><ellipse cx="0" cy="0" rx="65.0" ry="10.1" fill="url(#gk)" opacity="1.000" transform="translate(1675.2 2350.5) rotate(58.7)"/><ellipse cx="0" cy="0" rx="65.0" ry="10.1" fill="url(#gk)" opacity="1.000" transform="translate(1692.8 2331.6) rotate(58.7)"/></g></g>
<rect x="1792.2" y="2257.3" width="171.4" height="171.5" fill="#5252a8"/><clipPath id="c40"><rect x="1792.2" y="2257.3" width="171.4" height="171.5"/></clipPath><g clip-path="url(#c40)"><g filter="url(#jet)"><rect x="1792.2" y="2257.3" width="171.4" height="171.5" fill="#000"/><ellipse cx="0" cy="0" rx="36.7" ry="27.3" fill="url(#gs)" opacity="1.000" transform="translate(1858.6 2320.0) rotate(-70.0)"/><ellipse cx="0" cy="0" rx="36.8" ry="23.9" fill="url(#gs)" opacity="0.800" transform="translate(1878.7 2341.0) rotate(-70.0)"/><ellipse cx="0" cy="0" rx="36.7" ry="27.3" fill="url(#gs)" opacity="1.000" transform="translate(1898.8 2362.1) rotate(-70.0)"/><ellipse cx="0" cy="0" rx="58.7" ry="10.5" fill="url(#gk)" opacity="1.000" transform="translate(1868.6 2330.5) rotate(-70.0)"/><ellipse cx="0" cy="0" rx="58.7" ry="10.5" fill="url(#gk)" opacity="1.000" transform="translate(1888.8 2351.6) rotate(-70.0)"/></g></g>
<rect x="1986.1" y="2257.3" width="174.2" height="171.5" fill="#5252a8"/><clipPath id="c41"><rect x="1986.1" y="2257.3" width="174.2" height="171.5"/></clipPath><g clip-path="url(#c41)"><g filter="url(#jet)"><rect x="1986.1" y="2257.3" width="174.2" height="171.5" fill="#000"/><ellipse cx="0" cy="0" rx="30.8" ry="25.3" fill="url(#gs)" opacity="1.000" transform="translate(2074.1 2340.8) rotate(82.0)"/></g></g>
<text class="lab" x="1406" y="2370.3" font-size="86.5" textLength="130" lengthAdjust="spacingAndGlyphs">L11</text>
<rect x="1598.3" y="2442.6" width="171.4" height="171.5" fill="#5252a8"/><clipPath id="c42"><rect x="1598.3" y="2442.6" width="171.4" height="171.5"/></clipPath><g clip-path="url(#c42)"><g filter="url(#jet)"><rect x="1598.3" y="2442.6" width="171.4" height="171.5" fill="#000"/><ellipse cx="0" cy="0" rx="47.5" ry="30.2" fill="url(#gs)" opacity="1.000" transform="translate(1664.1 2547.8) rotate(55.0)"/><ellipse cx="0" cy="0" rx="42.7" ry="20.6" fill="url(#gs)" opacity="0.620" transform="translate(1684.0 2526.4) rotate(55.0)"/><ellipse cx="0" cy="0" rx="47.5" ry="30.2" fill="url(#gs)" opacity="1.000" transform="translate(1703.9 2505.0) rotate(55.0)"/><ellipse cx="0" cy="0" rx="75.9" ry="11.4" fill="url(#gk)" opacity="1.000" transform="translate(1674.0 2537.1) rotate(55.0)"/><ellipse cx="0" cy="0" rx="75.9" ry="11.4" fill="url(#gk)" opacity="1.000" transform="translate(1694.0 2515.7) rotate(55.0)"/></g></g>
<rect x="1792.2" y="2442.6" width="171.4" height="171.5" fill="#5252a8"/><clipPath id="c43"><rect x="1792.2" y="2442.6" width="171.4" height="171.5"/></clipPath><g clip-path="url(#c43)"><g filter="url(#jet)"><rect x="1792.2" y="2442.6" width="171.4" height="171.5" fill="#000"/><ellipse cx="0" cy="0" rx="40.6" ry="31.2" fill="url(#gs)" opacity="1.000" transform="translate(1855.0 2502.7) rotate(-70.0)"/><ellipse cx="0" cy="0" rx="40.8" ry="27.4" fill="url(#gs)" opacity="0.800" transform="translate(1878.7 2526.4) rotate(-70.0)"/><ellipse cx="0" cy="0" rx="40.6" ry="31.2" fill="url(#gs)" opacity="1.000" transform="translate(1902.4 2550.1) rotate(-70.0)"/><ellipse cx="0" cy="0" rx="64.9" ry="12.1" fill="url(#gk)" opacity="1.000" transform="translate(1866.9 2514.6) rotate(-70.0)"/><ellipse cx="0" cy="0" rx="64.9" ry="12.1" fill="url(#gk)" opacity="1.000" transform="translate(1890.5 2538.2) rotate(-70.0)"/></g></g>
<rect x="1986.1" y="2442.6" width="174.2" height="171.5" fill="#5252a8"/><clipPath id="c44"><rect x="1986.1" y="2442.6" width="174.2" height="171.5"/></clipPath><g clip-path="url(#c44)"><g filter="url(#jet)"><rect x="1986.1" y="2442.6" width="174.2" height="171.5" fill="#000"/><ellipse cx="0" cy="0" rx="35.1" ry="28.8" fill="url(#gs)" opacity="1.000" transform="translate(2074.1 2526.2) rotate(75.0)"/></g></g>
<text class="lab" x="1406" y="2555.6" font-size="86.5" textLength="130" lengthAdjust="spacingAndGlyphs">L12</text>
<rect x="1598.3" y="2628.0" width="171.4" height="171.5" fill="#5252a8"/><clipPath id="c45"><rect x="1598.3" y="2628.0" width="171.4" height="171.5"/></clipPath><g clip-path="url(#c45)"><g filter="url(#jet)"><rect x="1598.3" y="2628.0" width="171.4" height="171.5" fill="#000"/><ellipse cx="0" cy="0" rx="55.9" ry="34.2" fill="url(#gs)" opacity="1.000" transform="translate(1661.2 2735.7) rotate(49.3)"/><ellipse cx="0" cy="0" rx="50.3" ry="23.2" fill="url(#gs)" opacity="0.620" transform="translate(1684.0 2711.8) rotate(49.3)"/><ellipse cx="0" cy="0" rx="55.9" ry="34.2" fill="url(#gs)" opacity="1.000" transform="translate(1706.8 2687.8) rotate(49.3)"/><ellipse cx="0" cy="0" rx="89.5" ry="12.9" fill="url(#gk)" opacity="1.000" transform="translate(1672.6 2723.7) rotate(49.3)"/><ellipse cx="0" cy="0" rx="89.5" ry="12.9" fill="url(#gk)" opacity="1.000" transform="translate(1695.4 2699.8) rotate(49.3)"/></g></g>
<rect x="1792.2" y="2628.0" width="171.4" height="171.5" fill="#5252a8"/><clipPath id="c46"><rect x="1792.2" y="2628.0" width="171.4" height="171.5"/></clipPath><g clip-path="url(#c46)"><g filter="url(#jet)"><rect x="1792.2" y="2628.0" width="171.4" height="171.5" fill="#000"/><ellipse cx="0" cy="0" rx="43.6" ry="35.3" fill="url(#gs)" opacity="1.000" transform="translate(1850.5 2685.3) rotate(-70.0)"/><ellipse cx="0" cy="0" rx="43.4" ry="31.1" fill="url(#gs)" opacity="0.800" transform="translate(1878.7 2711.8) rotate(-70.0)"/><ellipse cx="0" cy="0" rx="43.6" ry="35.3" fill="url(#gs)" opacity="1.000" transform="translate(1906.9 2738.2) rotate(-70.0)"/><ellipse cx="0" cy="0" rx="69.7" ry="13.9" fill="url(#gk)" opacity="1.000" transform="translate(1864.6 2698.5) rotate(-70.0)"/><ellipse cx="0" cy="0" rx="69.7" ry="13.9" fill="url(#gk)" opacity="1.000" transform="translate(1892.8 2725.0) rotate(-70.0)"/></g></g>
<rect x="1986.1" y="2628.0" width="174.2" height="171.5" fill="#5252a8"/><clipPath id="c47"><rect x="1986.1" y="2628.0" width="174.2" height="171.5"/></clipPath><g clip-path="url(#c47)"><g filter="url(#jet)"><rect x="1986.1" y="2628.0" width="174.2" height="171.5" fill="#000"/><ellipse cx="0" cy="0" rx="41.1" ry="33.5" fill="url(#gs)" opacity="1.000" transform="translate(2074.1 2711.6) rotate(66.0)"/></g></g>
<text class="lab" x="1406" y="2741.0" font-size="86.5" textLength="130" lengthAdjust="spacingAndGlyphs">L13</text>
<rect x="1598.3" y="2813.3" width="171.4" height="171.5" fill="#5252a8"/><clipPath id="c48"><rect x="1598.3" y="2813.3" width="171.4" height="171.5"/></clipPath><g clip-path="url(#c48)"><g filter="url(#jet)"><rect x="1598.3" y="2813.3" width="171.4" height="171.5" fill="#000"/><ellipse cx="0" cy="0" rx="66.0" ry="38.6" fill="url(#gs)" opacity="1.000" transform="translate(1657.5 2923.6) rotate(41.7)"/><ellipse cx="0" cy="0" rx="59.4" ry="26.3" fill="url(#gs)" opacity="0.620" transform="translate(1684.0 2897.1) rotate(41.7)"/><ellipse cx="0" cy="0" rx="66.0" ry="38.6" fill="url(#gs)" opacity="1.000" transform="translate(1710.5 2870.6) rotate(41.7)"/><ellipse cx="0" cy="0" rx="105.6" ry="14.6" fill="url(#gk)" opacity="1.000" transform="translate(1670.8 2910.3) rotate(41.7)"/><ellipse cx="0" cy="0" rx="105.6" ry="14.6" fill="url(#gk)" opacity="1.000" transform="translate(1697.2 2883.9) rotate(41.7)"/></g></g>
<rect x="1792.2" y="2813.3" width="171.4" height="171.5" fill="#5252a8"/><clipPath id="c49"><rect x="1792.2" y="2813.3" width="171.4" height="171.5"/></clipPath><g clip-path="url(#c49)"><g filter="url(#jet)"><rect x="1792.2" y="2813.3" width="171.4" height="171.5" fill="#000"/><ellipse cx="0" cy="0" rx="45.6" ry="39.6" fill="url(#gs)" opacity="1.000" transform="translate(1845.0 2868.1) rotate(-70.0)"/><ellipse cx="0" cy="0" rx="44.6" ry="35.1" fill="url(#gs)" opacity="0.800" transform="translate(1878.7 2897.1) rotate(-70.0)"/><ellipse cx="0" cy="0" rx="45.6" ry="39.6" fill="url(#gs)" opacity="1.000" transform="translate(1912.4 2926.1) rotate(-70.0)"/><ellipse cx="0" cy="0" rx="73.0" ry="16.0" fill="url(#gk)" opacity="1.000" transform="translate(1861.9 2882.6) rotate(-70.0)"/><ellipse cx="0" cy="0" rx="73.0" ry="16.0" fill="url(#gk)" opacity="1.000" transform="translate(1895.5 2911.6) rotate(-70.0)"/></g></g>
<rect x="1986.1" y="2813.3" width="174.2" height="171.5" fill="#5252a8"/><clipPath id="c50"><rect x="1986.1" y="2813.3" width="174.2" height="171.5"/></clipPath><g clip-path="url(#c50)"><g filter="url(#jet)"><rect x="1986.1" y="2813.3" width="174.2" height="171.5" fill="#000"/><ellipse cx="0" cy="0" rx="48.9" ry="39.4" fill="url(#gs)" opacity="1.000" transform="translate(2074.1 2896.9) rotate(55.0)"/></g></g>
<text class="lab" x="1406" y="2926.3" font-size="86.5" textLength="130" lengthAdjust="spacingAndGlyphs">L14</text>
<rect x="1598.3" y="2998.7" width="171.4" height="171.5" fill="#5252a8"/><clipPath id="c51"><rect x="1598.3" y="2998.7" width="171.4" height="171.5"/></clipPath><g clip-path="url(#c51)"><g filter="url(#jet)"><rect x="1598.3" y="2998.7" width="171.4" height="171.5" fill="#000"/><ellipse cx="0" cy="0" rx="77.7" ry="43.7" fill="url(#gs)" opacity="1.000" transform="translate(1653.0 3111.4) rotate(32.0)"/><ellipse cx="0" cy="0" rx="69.9" ry="29.7" fill="url(#gs)" opacity="0.620" transform="translate(1684.0 3082.4) rotate(32.0)"/><ellipse cx="0" cy="0" rx="77.7" ry="43.7" fill="url(#gs)" opacity="1.000" transform="translate(1715.0 3053.5) rotate(32.0)"/><ellipse cx="0" cy="0" rx="124.3" ry="16.5" fill="url(#gk)" opacity="1.000" transform="translate(1668.5 3096.9) rotate(32.0)"/><ellipse cx="0" cy="0" rx="124.3" ry="16.5" fill="url(#gk)" opacity="1.000" transform="translate(1699.5 3068.0) rotate(32.0)"/></g></g>
<rect x="1792.2" y="2998.7" width="171.4" height="171.5" fill="#5252a8"/><clipPath id="c52"><rect x="1792.2" y="2998.7" width="171.4" height="171.5"/></clipPath><g clip-path="url(#c52)"><g filter="url(#jet)"><rect x="1792.2" y="2998.7" width="171.4" height="171.5" fill="#000"/><ellipse cx="0" cy="0" rx="46.8" ry="44.1" fill="url(#gs)" opacity="1.000" transform="translate(1838.3 3051.3) rotate(-70.0)"/><ellipse cx="0" cy="0" rx="44.4" ry="39.4" fill="url(#gs)" opacity="0.800" transform="translate(1878.7 3082.4) rotate(-70.0)"/><ellipse cx="0" cy="0" rx="46.8" ry="44.1" fill="url(#gs)" opacity="1.000" transform="translate(1919.1 3113.6) rotate(-70.0)"/><ellipse cx="0" cy="0" rx="74.9" ry="18.4" fill="url(#gk)" opacity="1.000" transform="translate(1858.5 3066.9) rotate(-70.0)"/><ellipse cx="0" cy="0" rx="74.9" ry="18.4" fill="url(#gk)" opacity="1.000" transform="translate(1898.9 3098.0) rotate(-70.0)"/></g></g>
<rect x="1986.1" y="2998.7" width="174.2" height="171.5" fill="#5252a8"/><clipPath id="c53"><rect x="1986.1" y="2998.7" width="174.2" height="171.5"/></clipPath><g clip-path="url(#c53)"><g filter="url(#jet)"><rect x="1986.1" y="2998.7" width="174.2" height="171.5" fill="#000"/><ellipse cx="0" cy="0" rx="58.5" ry="46.5" fill="url(#gs)" opacity="1.000" transform="translate(2074.1 3082.2) rotate(42.0)"/></g></g>
<text class="lab" x="1406" y="3111.7" font-size="86.5" textLength="130" lengthAdjust="spacingAndGlyphs">L15</text>
<rect x="1596.5" y="3183.3" width="340.5" height="340.5" fill="#5252a8"/><clipPath id="c54"><rect x="1596.5" y="3183.3" width="340.5" height="340.5"/></clipPath><g clip-path="url(#c54)"><g filter="url(#jet)"><rect x="1596.5" y="3183.3" width="340.5" height="340.5" fill="#000"/><ellipse cx="0" cy="0" rx="300.0" ry="31.5" fill="url(#gs)" opacity="0.800" transform="translate(1766.8 3316.6) rotate(0.0)"/><ellipse cx="0" cy="0" rx="312.0" ry="28.5" fill="url(#gs)" opacity="1.000" transform="translate(1766.8 3352.2) rotate(0.0)"/><ellipse cx="0" cy="0" rx="300.0" ry="31.5" fill="url(#gs)" opacity="0.800" transform="translate(1766.8 3388.0) rotate(0.0)"/><ellipse cx="0" cy="0" rx="600.0" ry="7.8" fill="url(#gk)" opacity="0.850" transform="translate(1766.8 3334.2) rotate(0.0)"/><ellipse cx="0" cy="0" rx="600.0" ry="7.8" fill="url(#gk)" opacity="0.850" transform="translate(1766.8 3370.2) rotate(0.0)"/></g></g><rect x="1596.5" y="3183.3" width="340.5" height="340.5" fill="none" stroke="#1c1c24" stroke-width="1.8"/><line x1="1681.6" y1="3523.8" x2="1681.6" y2="3526.3" stroke="#222" stroke-width="1.2"/><line x1="1594.0" y1="3268.4" x2="1596.5" y2="3268.4" stroke="#222" stroke-width="1.2"/><line x1="1766.8" y1="3523.8" x2="1766.8" y2="3526.3" stroke="#222" stroke-width="1.2"/><line x1="1594.0" y1="3353.6" x2="1596.5" y2="3353.6" stroke="#222" stroke-width="1.2"/><line x1="1851.9" y1="3523.8" x2="1851.9" y2="3526.3" stroke="#222" stroke-width="1.2"/><line x1="1594.0" y1="3438.7" x2="1596.5" y2="3438.7" stroke="#222" stroke-width="1.2"/>
<rect x="1962.0" y="3183.3" width="340.5" height="340.5" fill="#5252a8"/><clipPath id="c55"><rect x="1962.0" y="3183.3" width="340.5" height="340.5"/></clipPath><g clip-path="url(#c55)"><g filter="url(#jet)"><rect x="1962.0" y="3183.3" width="340.5" height="340.5" fill="#000"/><ellipse cx="0" cy="0" rx="300.0" ry="48.0" fill="url(#gs)" opacity="1.000" transform="translate(2131.2 3352.1) rotate(0.0)"/></g></g><rect x="1962.0" y="3183.3" width="340.5" height="340.5" fill="none" stroke="#1c1c24" stroke-width="1.8"/><line x1="2047.1" y1="3523.8" x2="2047.1" y2="3526.3" stroke="#222" stroke-width="1.2"/><line x1="1959.5" y1="3268.4" x2="1962.0" y2="3268.4" stroke="#222" stroke-width="1.2"/><line x1="2132.2" y1="3523.8" x2="2132.2" y2="3526.3" stroke="#222" stroke-width="1.2"/><line x1="1959.5" y1="3353.6" x2="1962.0" y2="3353.6" stroke="#222" stroke-width="1.2"/><line x1="2217.4" y1="3523.8" x2="2217.4" y2="3526.3" stroke="#222" stroke-width="1.2"/><line x1="1959.5" y1="3438.7" x2="1962.0" y2="3438.7" stroke="#222" stroke-width="1.2"/>
<text class="lab" x="1406" y="3350" font-size="86.5" textLength="130" lengthAdjust="spacingAndGlyphs">L16</text>
</svg></body></html>
